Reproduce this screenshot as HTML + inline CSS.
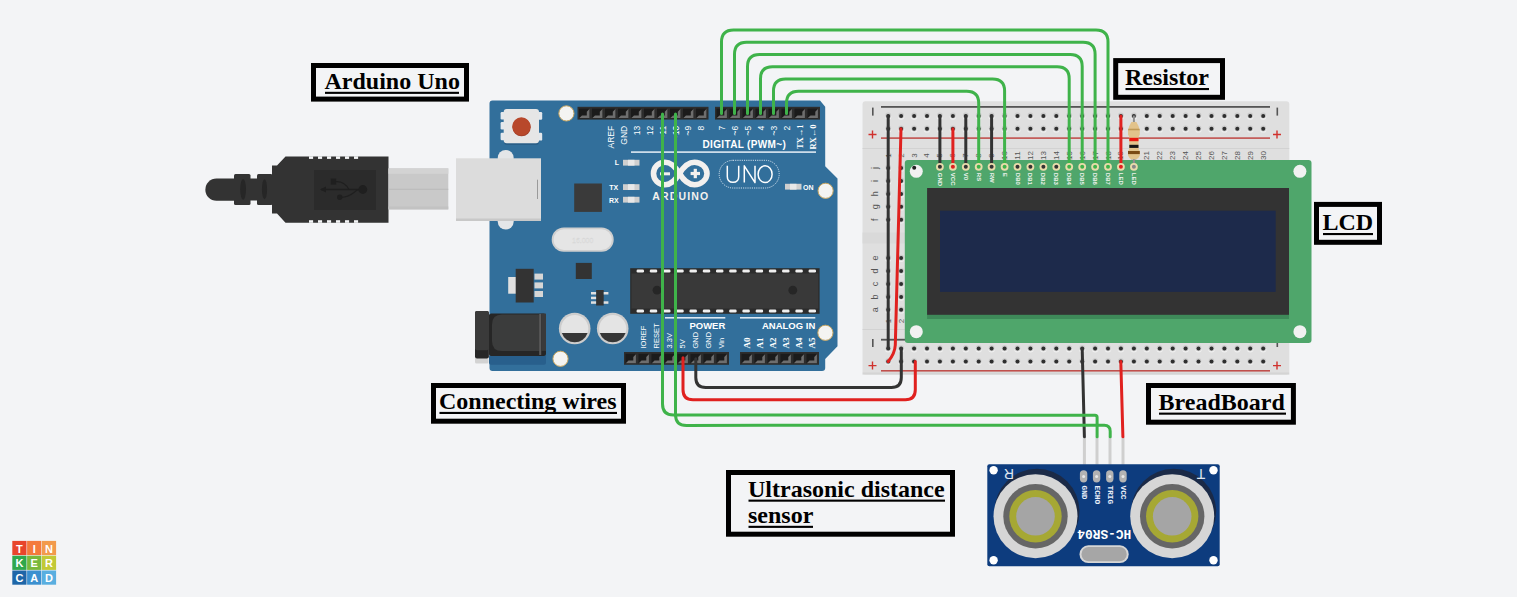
<!DOCTYPE html>
<html><head><meta charset="utf-8"><style>
html,body{margin:0;padding:0;background:#f3f4f6;width:1517px;height:597px;overflow:hidden}
svg{display:block}
</style></head><body>
<svg width="1517" height="597" viewBox="0 0 1517 597">
<rect width="1517" height="597" fill="#f3f4f6"/>
<g id="usb">
<path d="M234 178.5 L216.5 178.5 A11.15 11.15 0 0 0 216.5 200.8 L234 200.8 Z" fill="#333"/>
<rect x="234" y="174" width="16.5" height="31" rx="1.5" fill="#333"/>
<rect x="250" y="178.5" width="7" height="22" fill="#333"/>
<rect x="257" y="174" width="15.5" height="31" rx="1.5" fill="#333"/>
<ellipse cx="243.1" cy="189.3" rx="2.9" ry="10.4" fill="#262626"/>
<ellipse cx="264.5" cy="189.3" rx="2.6" ry="10" fill="#262626"/>
<path d="M272 165.5 L277 165.5 L285.5 156.5 L388.5 156.5 L388.5 222.8 L285.5 222.8 L277 213.5 L272 213.5 Z" fill="#333"/>
<rect x="309.0" y="156.3" width="4.1" height="2.6" fill="#f3f4f6"/>
<rect x="309.0" y="220.2" width="4.1" height="2.6" fill="#f3f4f6"/>
<rect x="318.0" y="156.3" width="4.1" height="2.6" fill="#f3f4f6"/>
<rect x="318.0" y="220.2" width="4.1" height="2.6" fill="#f3f4f6"/>
<rect x="327.0" y="156.3" width="4.1" height="2.6" fill="#f3f4f6"/>
<rect x="327.0" y="220.2" width="4.1" height="2.6" fill="#f3f4f6"/>
<rect x="336.0" y="156.3" width="4.1" height="2.6" fill="#f3f4f6"/>
<rect x="336.0" y="220.2" width="4.1" height="2.6" fill="#f3f4f6"/>
<rect x="345.0" y="156.3" width="4.1" height="2.6" fill="#f3f4f6"/>
<rect x="345.0" y="220.2" width="4.1" height="2.6" fill="#f3f4f6"/>
<rect x="354.0" y="156.3" width="4.1" height="2.6" fill="#f3f4f6"/>
<rect x="354.0" y="220.2" width="4.1" height="2.6" fill="#f3f4f6"/>
<rect x="314" y="170" width="62" height="40" fill="#2b2b2b"/>
<g fill="#1f1f1f" stroke="#1f1f1f" stroke-width="1.3"><path d="M321 189.5 L360 189.5" fill="none"/><path d="M320 189.5 L326 186.6 L326 192.4 Z" stroke="none"/><circle cx="362.8" cy="189.5" r="4.4" stroke="none"/><rect x="330.7" y="178.6" width="5.5" height="6" stroke="none"/><path d="M336 181.6 C341.5 181.2 346.5 184.5 348.8 189.5" fill="none"/><circle cx="339.7" cy="197.2" r="2.7" stroke="none"/><path d="M341.5 197.3 C346 197.3 350 195.5 354 192.5 C355.5 191.2 357 190 358.5 189.5" fill="none"/></g>
<rect x="388.5" y="168.4" width="59.8" height="41" fill="#c9c9c9"/>
<rect x="388.5" y="168.4" width="59.8" height="5.4" fill="#d3d3d3"/>
<rect x="388.5" y="188.8" width="59.8" height="0.9" fill="#b8b8b8"/>
<rect x="388.5" y="206.5" width="59.8" height="2.9" fill="#c2c2c2"/>
</g>
<g id="arduino">
<path d="M492.5 100.5 L820 100.5 L825.2 106.8 L825.2 166.3 L837.5 178.5 L837.5 346.2 L825.2 359 L825.2 368 Q825.2 371 822 371 L492.5 371 Q489.5 371 489.5 368 L489.5 103.5 Q489.5 100.5 492.5 100.5 Z" fill="#326f9b"/>
<rect x="504" y="111" width="35" height="34" rx="3" fill="#2a5f88"/>
<rect x="500.6" y="112" width="4" height="7.4" rx="1.2" fill="#e4e8ec"/>
<rect x="500.6" y="122" width="4" height="7.4" rx="1.2" fill="#e4e8ec"/>
<rect x="500.6" y="132.8" width="4" height="7.4" rx="1.2" fill="#e4e8ec"/>
<rect x="538.2" y="112" width="4" height="7.8" rx="1.2" fill="#e4e8ec"/>
<rect x="538.2" y="132.8" width="4" height="7.8" rx="1.2" fill="#e4e8ec"/>
<rect x="503.7" y="109.1" width="35.3" height="34.1" rx="3" fill="#e6e6e6"/>
<circle cx="521.6" cy="127.2" r="9.1" fill="#a23f29"/>
<circle cx="521.4" cy="126.4" r="9.1" fill="#b8482b"/>
<circle cx="566.4" cy="113.4" r="7.6" fill="#f4f4f2" stroke="#c8a660" stroke-width="1"/>
<circle cx="825.6" cy="190.8" r="7.6" fill="#f4f4f2" stroke="#c8a660" stroke-width="1"/>
<circle cx="825.4" cy="332.8" r="7.6" fill="#f4f4f2" stroke="#c8a660" stroke-width="1"/>
<circle cx="560.5" cy="358.8" r="7.6" fill="#f4f4f2" stroke="#c8a660" stroke-width="1"/>
<rect x="577.5" y="106.8" width="131" height="12.8" fill="#2d2d2d"/><rect x="579.0" y="108.6" width="10.2" height="9.6" fill="#1b1b1b"/><path d="M579.3 118.1 L589.4 118.1 L589.4 109.0 L586.8 111.8 L586.8 115.4 L582.0 115.4 Z" fill="#6e6e6e"/><rect x="592.0" y="108.6" width="10.2" height="9.6" fill="#1b1b1b"/><path d="M592.3 118.1 L602.4 118.1 L602.4 109.0 L599.8 111.8 L599.8 115.4 L595.0 115.4 Z" fill="#6e6e6e"/><rect x="605.0" y="108.6" width="10.2" height="9.6" fill="#1b1b1b"/><path d="M605.3 118.1 L615.4 118.1 L615.4 109.0 L612.8 111.8 L612.8 115.4 L608.0 115.4 Z" fill="#6e6e6e"/><rect x="618.0" y="108.6" width="10.2" height="9.6" fill="#1b1b1b"/><path d="M618.3 118.1 L628.4 118.1 L628.4 109.0 L625.8 111.8 L625.8 115.4 L621.0 115.4 Z" fill="#6e6e6e"/><rect x="631.0" y="108.6" width="10.2" height="9.6" fill="#1b1b1b"/><path d="M631.3 118.1 L641.4 118.1 L641.4 109.0 L638.8 111.8 L638.8 115.4 L634.0 115.4 Z" fill="#6e6e6e"/><rect x="644.0" y="108.6" width="10.2" height="9.6" fill="#1b1b1b"/><path d="M644.3 118.1 L654.4 118.1 L654.4 109.0 L651.8 111.8 L651.8 115.4 L647.0 115.4 Z" fill="#6e6e6e"/><rect x="657.0" y="108.6" width="10.2" height="9.6" fill="#1b1b1b"/><path d="M657.3 118.1 L667.4 118.1 L667.4 109.0 L664.8 111.8 L664.8 115.4 L660.0 115.4 Z" fill="#6e6e6e"/><rect x="670.0" y="108.6" width="10.2" height="9.6" fill="#1b1b1b"/><path d="M670.3 118.1 L680.4 118.1 L680.4 109.0 L677.8 111.8 L677.8 115.4 L673.0 115.4 Z" fill="#6e6e6e"/><rect x="683.0" y="108.6" width="10.2" height="9.6" fill="#1b1b1b"/><path d="M683.3 118.1 L693.4 118.1 L693.4 109.0 L690.8 111.8 L690.8 115.4 L686.0 115.4 Z" fill="#6e6e6e"/><rect x="696.0" y="108.6" width="10.2" height="9.6" fill="#1b1b1b"/><path d="M696.3 118.1 L706.4 118.1 L706.4 109.0 L703.8 111.8 L703.8 115.4 L699.0 115.4 Z" fill="#6e6e6e"/>
<rect x="715" y="106.8" width="105" height="12.8" fill="#2d2d2d"/><rect x="716.5" y="108.6" width="10.2" height="9.6" fill="#1b1b1b"/><path d="M716.8 118.1 L726.9 118.1 L726.9 109.0 L724.3 111.8 L724.3 115.4 L719.5 115.4 Z" fill="#6e6e6e"/><rect x="729.5" y="108.6" width="10.2" height="9.6" fill="#1b1b1b"/><path d="M729.8 118.1 L739.9 118.1 L739.9 109.0 L737.3 111.8 L737.3 115.4 L732.5 115.4 Z" fill="#6e6e6e"/><rect x="742.5" y="108.6" width="10.2" height="9.6" fill="#1b1b1b"/><path d="M742.8 118.1 L752.9 118.1 L752.9 109.0 L750.3 111.8 L750.3 115.4 L745.5 115.4 Z" fill="#6e6e6e"/><rect x="755.5" y="108.6" width="10.2" height="9.6" fill="#1b1b1b"/><path d="M755.8 118.1 L765.9 118.1 L765.9 109.0 L763.3 111.8 L763.3 115.4 L758.5 115.4 Z" fill="#6e6e6e"/><rect x="768.5" y="108.6" width="10.2" height="9.6" fill="#1b1b1b"/><path d="M768.8 118.1 L778.9 118.1 L778.9 109.0 L776.3 111.8 L776.3 115.4 L771.5 115.4 Z" fill="#6e6e6e"/><rect x="781.5" y="108.6" width="10.2" height="9.6" fill="#1b1b1b"/><path d="M781.8 118.1 L791.9 118.1 L791.9 109.0 L789.3 111.8 L789.3 115.4 L784.5 115.4 Z" fill="#6e6e6e"/><rect x="794.5" y="108.6" width="10.2" height="9.6" fill="#1b1b1b"/><path d="M794.8 118.1 L804.9 118.1 L804.9 109.0 L802.3 111.8 L802.3 115.4 L797.5 115.4 Z" fill="#6e6e6e"/><rect x="807.5" y="108.6" width="10.2" height="9.6" fill="#1b1b1b"/><path d="M807.8 118.1 L817.9 118.1 L817.9 109.0 L815.3 111.8 L815.3 115.4 L810.5 115.4 Z" fill="#6e6e6e"/>
<rect x="624" y="352" width="105" height="12.8" fill="#2d2d2d"/><rect x="625.5" y="353.8" width="10.2" height="9.6" fill="#1b1b1b"/><path d="M625.8 363.3 L635.9 363.3 L635.9 354.2 L633.3 357.0 L633.3 360.6 L628.5 360.6 Z" fill="#6e6e6e"/><rect x="638.5" y="353.8" width="10.2" height="9.6" fill="#1b1b1b"/><path d="M638.8 363.3 L648.9 363.3 L648.9 354.2 L646.3 357.0 L646.3 360.6 L641.5 360.6 Z" fill="#6e6e6e"/><rect x="651.5" y="353.8" width="10.2" height="9.6" fill="#1b1b1b"/><path d="M651.8 363.3 L661.9 363.3 L661.9 354.2 L659.3 357.0 L659.3 360.6 L654.5 360.6 Z" fill="#6e6e6e"/><rect x="664.5" y="353.8" width="10.2" height="9.6" fill="#1b1b1b"/><path d="M664.8 363.3 L674.9 363.3 L674.9 354.2 L672.3 357.0 L672.3 360.6 L667.5 360.6 Z" fill="#6e6e6e"/><rect x="677.5" y="353.8" width="10.2" height="9.6" fill="#1b1b1b"/><path d="M677.8 363.3 L687.9 363.3 L687.9 354.2 L685.3 357.0 L685.3 360.6 L680.5 360.6 Z" fill="#6e6e6e"/><rect x="690.5" y="353.8" width="10.2" height="9.6" fill="#1b1b1b"/><path d="M690.8 363.3 L700.9 363.3 L700.9 354.2 L698.3 357.0 L698.3 360.6 L693.5 360.6 Z" fill="#6e6e6e"/><rect x="703.5" y="353.8" width="10.2" height="9.6" fill="#1b1b1b"/><path d="M703.8 363.3 L713.9 363.3 L713.9 354.2 L711.3 357.0 L711.3 360.6 L706.5 360.6 Z" fill="#6e6e6e"/><rect x="716.5" y="353.8" width="10.2" height="9.6" fill="#1b1b1b"/><path d="M716.8 363.3 L726.9 363.3 L726.9 354.2 L724.3 357.0 L724.3 360.6 L719.5 360.6 Z" fill="#6e6e6e"/>
<rect x="740" y="352" width="79" height="12.8" fill="#2d2d2d"/><rect x="741.5" y="353.8" width="10.2" height="9.6" fill="#1b1b1b"/><path d="M741.8 363.3 L751.9 363.3 L751.9 354.2 L749.3 357.0 L749.3 360.6 L744.5 360.6 Z" fill="#6e6e6e"/><rect x="754.5" y="353.8" width="10.2" height="9.6" fill="#1b1b1b"/><path d="M754.8 363.3 L764.9 363.3 L764.9 354.2 L762.3 357.0 L762.3 360.6 L757.5 360.6 Z" fill="#6e6e6e"/><rect x="767.5" y="353.8" width="10.2" height="9.6" fill="#1b1b1b"/><path d="M767.8 363.3 L777.9 363.3 L777.9 354.2 L775.3 357.0 L775.3 360.6 L770.5 360.6 Z" fill="#6e6e6e"/><rect x="780.5" y="353.8" width="10.2" height="9.6" fill="#1b1b1b"/><path d="M780.8 363.3 L790.9 363.3 L790.9 354.2 L788.3 357.0 L788.3 360.6 L783.5 360.6 Z" fill="#6e6e6e"/><rect x="793.5" y="353.8" width="10.2" height="9.6" fill="#1b1b1b"/><path d="M793.8 363.3 L803.9 363.3 L803.9 354.2 L801.3 357.0 L801.3 360.6 L796.5 360.6 Z" fill="#6e6e6e"/><rect x="806.5" y="353.8" width="10.2" height="9.6" fill="#1b1b1b"/><path d="M806.8 363.3 L816.9 363.3 L816.9 354.2 L814.3 357.0 L814.3 360.6 L809.5 360.6 Z" fill="#6e6e6e"/>
<text transform="translate(611.2,125.8) rotate(-90)" font-family="Liberation Sans" font-size="8.5" font-weight="normal" fill="#fff" text-anchor="end" dominant-baseline="central">AREF</text>
<text transform="translate(623.8,125.8) rotate(-90)" font-family="Liberation Sans" font-size="8.5" font-weight="normal" fill="#fff" text-anchor="end" dominant-baseline="central">GND</text>
<text transform="translate(636.8,125.8) rotate(-90)" font-family="Liberation Sans" font-size="8.5" font-weight="normal" fill="#fff" text-anchor="end" dominant-baseline="central">13</text>
<text transform="translate(649.8,125.8) rotate(-90)" font-family="Liberation Sans" font-size="8.5" font-weight="normal" fill="#fff" text-anchor="end" dominant-baseline="central">12</text>
<text transform="translate(662.5,125.8) rotate(-90)" font-family="Liberation Sans" font-size="8.5" font-weight="normal" fill="#fff" text-anchor="end" dominant-baseline="central">~11</text>
<text transform="translate(675.5,125.8) rotate(-90)" font-family="Liberation Sans" font-size="8.5" font-weight="normal" fill="#fff" text-anchor="end" dominant-baseline="central">~10</text>
<text transform="translate(688.4,125.8) rotate(-90)" font-family="Liberation Sans" font-size="8.5" font-weight="normal" fill="#fff" text-anchor="end" dominant-baseline="central">~9</text>
<text transform="translate(701.3,125.8) rotate(-90)" font-family="Liberation Sans" font-size="8.5" font-weight="normal" fill="#fff" text-anchor="end" dominant-baseline="central">8</text>
<text transform="translate(721.5,125.8) rotate(-90)" font-family="Liberation Sans" font-size="8.5" font-weight="normal" fill="#fff" text-anchor="end" dominant-baseline="central">7</text>
<text transform="translate(734.5,125.8) rotate(-90)" font-family="Liberation Sans" font-size="8.5" font-weight="normal" fill="#fff" text-anchor="end" dominant-baseline="central">~6</text>
<text transform="translate(747.5,125.8) rotate(-90)" font-family="Liberation Sans" font-size="8.5" font-weight="normal" fill="#fff" text-anchor="end" dominant-baseline="central">~5</text>
<text transform="translate(760.5,125.8) rotate(-90)" font-family="Liberation Sans" font-size="8.5" font-weight="normal" fill="#fff" text-anchor="end" dominant-baseline="central">4</text>
<text transform="translate(773.5,125.8) rotate(-90)" font-family="Liberation Sans" font-size="8.5" font-weight="normal" fill="#fff" text-anchor="end" dominant-baseline="central">~3</text>
<text transform="translate(786.5,125.8) rotate(-90)" font-family="Liberation Sans" font-size="8.5" font-weight="normal" fill="#fff" text-anchor="end" dominant-baseline="central">2</text>
<text transform="translate(799.8,124.5) rotate(-90)" font-family="Liberation Serif" font-size="8.5" font-weight="bold" fill="#fff" text-anchor="end" dominant-baseline="central">TX→1</text>
<text transform="translate(812.6,124.5) rotate(-90)" font-family="Liberation Serif" font-size="8.5" font-weight="bold" fill="#fff" text-anchor="end" dominant-baseline="central">RX←0</text>
<text x="702.5" y="148.3" font-family="Liberation Sans" font-weight="bold" font-size="10" fill="#fff" textLength="83.3" lengthAdjust="spacing">DIGITAL (PWM~)</text>
<rect x="631" y="151.3" width="185" height="1.6" fill="#dde8f2"/>
<rect x="623" y="159.8" width="16.5" height="5.8" fill="#cfcfcf"/><rect x="628" y="159.8" width="6.5" height="5.8" fill="#e8e8e8"/>
<rect x="623" y="184.2" width="16.5" height="5.8" fill="#cfcfcf"/><rect x="628" y="184.2" width="6.5" height="5.8" fill="#e8e8e8"/>
<rect x="623" y="196.8" width="16.5" height="5.8" fill="#cfcfcf"/><rect x="628" y="196.8" width="6.5" height="5.8" fill="#e8e8e8"/>
<rect x="785" y="183.8" width="16.5" height="5.8" fill="#cfcfcf"/><rect x="790" y="183.8" width="6.5" height="5.8" fill="#e8e8e8"/>
<text x="617" y="165.3" font-family="Liberation Sans" font-weight="bold" font-size="7" fill="#fff" text-anchor="middle">L</text>
<text x="613.8" y="190" font-family="Liberation Sans" font-weight="bold" font-size="7" fill="#fff" text-anchor="middle">TX</text>
<text x="613.8" y="202.6" font-family="Liberation Sans" font-weight="bold" font-size="7" fill="#fff" text-anchor="middle">RX</text>
<text x="803" y="189.6" font-family="Liberation Sans" font-weight="bold" font-size="7" fill="#fff">ON</text>
<path d="M679.5 173.5 C675 166 671 162.2 665 162.2 C658.5 162.2 653.5 167.3 653.5 173.5 C653.5 179.7 658.5 184.8 665 184.8 C671 184.8 675 181 679.5 173.5 C684 166 688 162.2 694.5 162.2 C701 162.2 707 167.3 707 173.5 C707 179.7 701 184.8 694.5 184.8 C688 184.8 684 181 679.5 173.5 Z" fill="none" stroke="#f3f0ee" stroke-width="5.6"/>
<rect x="660" y="172.3" width="10" height="3" fill="#f3f0ee"/>
<rect x="690.6" y="171.9" width="9.4" height="3.2" fill="#f3f0ee"/><rect x="693.7" y="168.8" width="3.2" height="9.4" fill="#f3f0ee"/>
<text x="680.2" y="199.8" font-family="Liberation Sans" font-weight="bold" font-size="10.5" fill="#f4f1ee" text-anchor="middle" textLength="56" lengthAdjust="spacing">ARDUINO</text>
<rect x="719.2" y="160.3" width="60" height="27.7" rx="13.8" fill="none" stroke="#e8f0f8" stroke-width="0.9" stroke-dasharray="1.1 1.1"/>
<g fill="none" stroke="#fff" stroke-width="1.5" stroke-linejoin="round"><path d="M727.3 165.8 L727.3 176.5 Q727.3 182.3 733 182.3 Q738.7 182.3 738.7 176.5 L738.7 165.8"/><path d="M744.3 182.6 L744.3 165.8 L755 182.6 L755 165.8"/><ellipse cx="765.1" cy="174.2" rx="7" ry="8.4"/></g>
<rect x="574.2" y="183.5" width="27.7" height="28.4" fill="#3a3a3a"/>
<circle cx="505.7" cy="158" r="8" fill="#e4e6e8"/>
<circle cx="505.7" cy="221.5" r="8" fill="#e4e6e8"/>
<rect x="456" y="158.3" width="85" height="62.7" fill="#dcdcdc"/>
<rect x="456" y="218.5" width="85" height="2.5" fill="#c8c8c8"/>
<rect x="537" y="179.7" width="1" height="19.3" fill="#9a9a9a"/>
<rect x="551.7" y="227.5" width="62" height="24.3" rx="12.1" fill="#cfcfcf"/>
<rect x="553.6" y="229.2" width="58.2" height="20.9" rx="10.4" fill="#e5e5e5"/>
<text x="582.7" y="242.8" font-family="Liberation Sans" font-size="7" fill="#f2f2f2" text-anchor="middle" stroke="#d6d6d6" stroke-width="0.4">16.000</text>
<rect x="575.8" y="262.9" width="16" height="16.1" fill="#333"/>
<rect x="508.2" y="277" width="8" height="16.7" fill="#e0e0e0"/>
<rect x="515.7" y="268.8" width="18" height="33.7" fill="#333"/>
<rect x="534.5" y="273.6" width="8.5" height="6" fill="#d6d6d6"/>
<rect x="534.5" y="282.4" width="8.5" height="6" fill="#d6d6d6"/>
<rect x="534.5" y="291" width="8.5" height="6" fill="#d6d6d6"/>
<rect x="596.1" y="290" width="7.6" height="15.5" fill="#333"/>
<rect x="591" y="292" width="5.1" height="2.5" fill="#e0e0e0"/>
<rect x="591" y="296.7" width="5.1" height="2.5" fill="#e0e0e0"/>
<rect x="591" y="301.3" width="5.1" height="2.5" fill="#e0e0e0"/>
<rect x="603.7" y="292" width="4.7" height="2.5" fill="#e0e0e0"/><rect x="603.7" y="301.3" width="4.7" height="2.5" fill="#e0e0e0"/>
<circle cx="574.7" cy="328.5" r="15.8" fill="#cdcdcd"/>
<circle cx="574.7" cy="328.5" r="13.6" fill="#e4e4e4"/>
<path d="M561.8 333 A13.6 13.6 0 0 0 587.6 333 Z" fill="#363636"/>
<circle cx="612.7" cy="328.5" r="15.8" fill="#cdcdcd"/>
<circle cx="612.7" cy="328.5" r="13.6" fill="#e4e4e4"/>
<path d="M599.8 333 A13.6 13.6 0 0 0 625.6 333 Z" fill="#363636"/>
<rect x="489" y="355" width="57" height="9.7" rx="2" fill="#285f8c"/>
<rect x="475" y="356" width="13.5" height="7.5" rx="1.5" fill="#d3d3d3"/>
<rect x="488.9" y="313.6" width="57.1" height="42.3" rx="2.5" fill="#262626"/>
<path d="M502 314.5 L540.4 314.5 L540.4 350.9 L502 350.9 Q492 350.9 492 340.9 L492 324.5 Q492 314.5 502 314.5 Z" fill="#3b3c3c"/>
<rect x="539.2" y="314" width="2" height="41" fill="#5a5a5a"/>
<rect x="541.2" y="313.6" width="4.8" height="37.3" fill="#3a3a3a"/>
<rect x="475" y="311" width="13.9" height="47.4" rx="2" fill="#262626"/>
<rect x="475" y="311" width="13.9" height="39.3" rx="2" fill="#3a3a3a"/>
<rect x="630.2" y="268.2" width="189.4" height="45.6" fill="#2c2c2c"/>
<rect x="631.5" y="273.5" width="186.8" height="35" fill="#393939"/>
<rect x="636.6" y="269.6" width="7.4" height="2.8" rx="1.2" fill="#f0f0f0"/>
<rect x="636.6" y="309.6" width="7.4" height="2.8" rx="1.2" fill="#f0f0f0"/>
<rect x="649.8" y="269.6" width="7.4" height="2.8" rx="1.2" fill="#f0f0f0"/>
<rect x="649.8" y="309.6" width="7.4" height="2.8" rx="1.2" fill="#f0f0f0"/>
<rect x="663.1" y="269.6" width="7.4" height="2.8" rx="1.2" fill="#f0f0f0"/>
<rect x="663.1" y="309.6" width="7.4" height="2.8" rx="1.2" fill="#f0f0f0"/>
<rect x="676.3" y="269.6" width="7.4" height="2.8" rx="1.2" fill="#f0f0f0"/>
<rect x="676.3" y="309.6" width="7.4" height="2.8" rx="1.2" fill="#f0f0f0"/>
<rect x="689.5" y="269.6" width="7.4" height="2.8" rx="1.2" fill="#f0f0f0"/>
<rect x="689.5" y="309.6" width="7.4" height="2.8" rx="1.2" fill="#f0f0f0"/>
<rect x="702.8" y="269.6" width="7.4" height="2.8" rx="1.2" fill="#f0f0f0"/>
<rect x="702.8" y="309.6" width="7.4" height="2.8" rx="1.2" fill="#f0f0f0"/>
<rect x="716.0" y="269.6" width="7.4" height="2.8" rx="1.2" fill="#f0f0f0"/>
<rect x="716.0" y="309.6" width="7.4" height="2.8" rx="1.2" fill="#f0f0f0"/>
<rect x="729.2" y="269.6" width="7.4" height="2.8" rx="1.2" fill="#f0f0f0"/>
<rect x="729.2" y="309.6" width="7.4" height="2.8" rx="1.2" fill="#f0f0f0"/>
<rect x="742.4" y="269.6" width="7.4" height="2.8" rx="1.2" fill="#f0f0f0"/>
<rect x="742.4" y="309.6" width="7.4" height="2.8" rx="1.2" fill="#f0f0f0"/>
<rect x="755.7" y="269.6" width="7.4" height="2.8" rx="1.2" fill="#f0f0f0"/>
<rect x="755.7" y="309.6" width="7.4" height="2.8" rx="1.2" fill="#f0f0f0"/>
<rect x="768.9" y="269.6" width="7.4" height="2.8" rx="1.2" fill="#f0f0f0"/>
<rect x="768.9" y="309.6" width="7.4" height="2.8" rx="1.2" fill="#f0f0f0"/>
<rect x="782.1" y="269.6" width="7.4" height="2.8" rx="1.2" fill="#f0f0f0"/>
<rect x="782.1" y="309.6" width="7.4" height="2.8" rx="1.2" fill="#f0f0f0"/>
<rect x="795.4" y="269.6" width="7.4" height="2.8" rx="1.2" fill="#f0f0f0"/>
<rect x="795.4" y="309.6" width="7.4" height="2.8" rx="1.2" fill="#f0f0f0"/>
<rect x="808.6" y="269.6" width="7.4" height="2.8" rx="1.2" fill="#f0f0f0"/>
<rect x="808.6" y="309.6" width="7.4" height="2.8" rx="1.2" fill="#f0f0f0"/>
<circle cx="657" cy="290.2" r="4.4" fill="#262626"/><circle cx="792.8" cy="290.2" r="4.4" fill="#262626"/>
<rect x="665" y="317" width="60.3" height="1.6" fill="#dde8f2"/>
<rect x="740" y="317" width="75.3" height="1.6" fill="#dde8f2"/>
<text x="725.3" y="329" font-family="Liberation Sans" font-weight="bold" font-size="9.5" fill="#fff" text-anchor="end">POWER</text>
<text x="815.3" y="329" font-family="Liberation Sans" font-weight="bold" font-size="9.5" fill="#fff" text-anchor="end">ANALOG IN</text>
<text transform="translate(643.5,348.5) rotate(-90)" font-family="Liberation Sans" font-size="7.5" font-weight="normal" fill="#fff" text-anchor="start" dominant-baseline="central">IOREF</text>
<text transform="translate(656.5,348.5) rotate(-90)" font-family="Liberation Sans" font-size="7.5" font-weight="normal" fill="#fff" text-anchor="start" dominant-baseline="central">RESET</text>
<text transform="translate(669.5,348.5) rotate(-90)" font-family="Liberation Sans" font-size="7.5" font-weight="normal" fill="#fff" text-anchor="start" dominant-baseline="central">3.3V</text>
<text transform="translate(682.5,348.5) rotate(-90)" font-family="Liberation Sans" font-size="7.5" font-weight="normal" fill="#fff" text-anchor="start" dominant-baseline="central">5V</text>
<text transform="translate(695.5,348.5) rotate(-90)" font-family="Liberation Sans" font-size="7.5" font-weight="normal" fill="#fff" text-anchor="start" dominant-baseline="central">GND</text>
<text transform="translate(708.5,348.5) rotate(-90)" font-family="Liberation Sans" font-size="7.5" font-weight="normal" fill="#fff" text-anchor="start" dominant-baseline="central">GND</text>
<text transform="translate(721.5,348.5) rotate(-90)" font-family="Liberation Sans" font-size="7.5" font-weight="normal" fill="#fff" text-anchor="start" dominant-baseline="central">Vin</text>
<text transform="translate(746.5,348.5) rotate(-90)" font-family="Liberation Serif" font-size="9" font-weight="bold" fill="#fff" text-anchor="start" dominant-baseline="central">A0</text>
<text transform="translate(759.5,348.5) rotate(-90)" font-family="Liberation Serif" font-size="9" font-weight="bold" fill="#fff" text-anchor="start" dominant-baseline="central">A1</text>
<text transform="translate(772.5,348.5) rotate(-90)" font-family="Liberation Serif" font-size="9" font-weight="bold" fill="#fff" text-anchor="start" dominant-baseline="central">A2</text>
<text transform="translate(785.5,348.5) rotate(-90)" font-family="Liberation Serif" font-size="9" font-weight="bold" fill="#fff" text-anchor="start" dominant-baseline="central">A3</text>
<text transform="translate(798.5,348.5) rotate(-90)" font-family="Liberation Serif" font-size="9" font-weight="bold" fill="#fff" text-anchor="start" dominant-baseline="central">A4</text>
<text transform="translate(811.5,348.5) rotate(-90)" font-family="Liberation Serif" font-size="9" font-weight="bold" fill="#fff" text-anchor="start" dominant-baseline="central">A5</text>
</g>
<g id="bb">
<rect x="862.5" y="101.3" width="426.8" height="273.3" rx="3" fill="#dfdfdf"/>
<rect x="862.5" y="372.5" width="426.8" height="2.1" fill="#d4d4d4"/>
<rect x="862.5" y="148" width="426.8" height="1" fill="#d2d2d2"/>
<rect x="862.5" y="329" width="426.8" height="1" fill="#d2d2d2"/>
<rect x="862.5" y="232.5" width="426.8" height="11" fill="#d9d9d9"/>
<rect x="881" y="106" width="389" height="1.8" fill="#555"/>
<rect x="881" y="137.3" width="389" height="1.6" fill="#c0504d"/>
<rect x="881" y="338.8" width="389" height="1.8" fill="#555"/>
<rect x="881" y="370" width="389" height="1.6" fill="#c0504d"/>
<rect x="872" y="107.6" width="1.6" height="8" fill="#555"/>
<rect x="1276.5" y="107.6" width="1.6" height="8" fill="#555"/>
<rect x="872" y="339" width="1.6" height="8" fill="#555"/>
<rect x="1276.5" y="339" width="1.6" height="8" fill="#555"/>
<path d="M868.5 134.5 h8 M872.5 130.5 v8" stroke="#d0312d" stroke-width="1.4"/>
<path d="M1273 134.5 h8 M1277 130.5 v8" stroke="#d0312d" stroke-width="1.4"/>
<path d="M868.5 365.6 h8 M872.5 361.6 v8" stroke="#d0312d" stroke-width="1.4"/>
<path d="M1273 365.6 h8 M1277 361.6 v8" stroke="#d0312d" stroke-width="1.4"/>
<circle cx="888.2" cy="116.5" r="3.2" fill="#f0f0f0"/><circle cx="888.2" cy="115.6" r="3" fill="#cbcbcb"/><circle cx="888.2" cy="115.9" r="2.0" fill="#2e2e2e"/>
<circle cx="888.2" cy="129.4" r="3.2" fill="#f0f0f0"/><circle cx="888.2" cy="128.5" r="3" fill="#cbcbcb"/><circle cx="888.2" cy="128.8" r="2.0" fill="#2e2e2e"/>
<circle cx="888.2" cy="349.2" r="3.2" fill="#f0f0f0"/><circle cx="888.2" cy="348.3" r="3" fill="#cbcbcb"/><circle cx="888.2" cy="348.6" r="2.0" fill="#2e2e2e"/>
<circle cx="888.2" cy="362.1" r="3.2" fill="#f0f0f0"/><circle cx="888.2" cy="361.2" r="3" fill="#cbcbcb"/><circle cx="888.2" cy="361.5" r="2.0" fill="#2e2e2e"/>
<circle cx="888.2" cy="168.6" r="3.2" fill="#f0f0f0"/><circle cx="888.2" cy="167.7" r="3" fill="#cbcbcb"/><circle cx="888.2" cy="168.0" r="2.0" fill="#2e2e2e"/>
<circle cx="888.2" cy="258.7" r="3.2" fill="#f0f0f0"/><circle cx="888.2" cy="257.8" r="3" fill="#cbcbcb"/><circle cx="888.2" cy="258.1" r="2.0" fill="#2e2e2e"/>
<circle cx="888.2" cy="181.5" r="3.2" fill="#f0f0f0"/><circle cx="888.2" cy="180.6" r="3" fill="#cbcbcb"/><circle cx="888.2" cy="180.9" r="2.0" fill="#2e2e2e"/>
<circle cx="888.2" cy="271.6" r="3.2" fill="#f0f0f0"/><circle cx="888.2" cy="270.7" r="3" fill="#cbcbcb"/><circle cx="888.2" cy="271.0" r="2.0" fill="#2e2e2e"/>
<circle cx="888.2" cy="194.5" r="3.2" fill="#f0f0f0"/><circle cx="888.2" cy="193.6" r="3" fill="#cbcbcb"/><circle cx="888.2" cy="193.9" r="2.0" fill="#2e2e2e"/>
<circle cx="888.2" cy="284.6" r="3.2" fill="#f0f0f0"/><circle cx="888.2" cy="283.7" r="3" fill="#cbcbcb"/><circle cx="888.2" cy="284.0" r="2.0" fill="#2e2e2e"/>
<circle cx="888.2" cy="207.4" r="3.2" fill="#f0f0f0"/><circle cx="888.2" cy="206.5" r="3" fill="#cbcbcb"/><circle cx="888.2" cy="206.8" r="2.0" fill="#2e2e2e"/>
<circle cx="888.2" cy="297.5" r="3.2" fill="#f0f0f0"/><circle cx="888.2" cy="296.6" r="3" fill="#cbcbcb"/><circle cx="888.2" cy="296.9" r="2.0" fill="#2e2e2e"/>
<circle cx="888.2" cy="220.3" r="3.2" fill="#f0f0f0"/><circle cx="888.2" cy="219.4" r="3" fill="#cbcbcb"/><circle cx="888.2" cy="219.7" r="2.0" fill="#2e2e2e"/>
<circle cx="888.2" cy="310.4" r="3.2" fill="#f0f0f0"/><circle cx="888.2" cy="309.5" r="3" fill="#cbcbcb"/><circle cx="888.2" cy="309.8" r="2.0" fill="#2e2e2e"/>
<circle cx="901.1" cy="116.5" r="3.2" fill="#f0f0f0"/><circle cx="901.1" cy="115.6" r="3" fill="#cbcbcb"/><circle cx="901.1" cy="115.9" r="2.0" fill="#2e2e2e"/>
<circle cx="901.1" cy="129.4" r="3.2" fill="#f0f0f0"/><circle cx="901.1" cy="128.5" r="3" fill="#cbcbcb"/><circle cx="901.1" cy="128.8" r="2.0" fill="#2e2e2e"/>
<circle cx="901.1" cy="349.2" r="3.2" fill="#f0f0f0"/><circle cx="901.1" cy="348.3" r="3" fill="#cbcbcb"/><circle cx="901.1" cy="348.6" r="2.0" fill="#2e2e2e"/>
<circle cx="901.1" cy="362.1" r="3.2" fill="#f0f0f0"/><circle cx="901.1" cy="361.2" r="3" fill="#cbcbcb"/><circle cx="901.1" cy="361.5" r="2.0" fill="#2e2e2e"/>
<circle cx="901.1" cy="168.6" r="3.2" fill="#f0f0f0"/><circle cx="901.1" cy="167.7" r="3" fill="#cbcbcb"/><circle cx="901.1" cy="168.0" r="2.0" fill="#2e2e2e"/>
<circle cx="901.1" cy="258.7" r="3.2" fill="#f0f0f0"/><circle cx="901.1" cy="257.8" r="3" fill="#cbcbcb"/><circle cx="901.1" cy="258.1" r="2.0" fill="#2e2e2e"/>
<circle cx="901.1" cy="181.5" r="3.2" fill="#f0f0f0"/><circle cx="901.1" cy="180.6" r="3" fill="#cbcbcb"/><circle cx="901.1" cy="180.9" r="2.0" fill="#2e2e2e"/>
<circle cx="901.1" cy="271.6" r="3.2" fill="#f0f0f0"/><circle cx="901.1" cy="270.7" r="3" fill="#cbcbcb"/><circle cx="901.1" cy="271.0" r="2.0" fill="#2e2e2e"/>
<circle cx="901.1" cy="194.5" r="3.2" fill="#f0f0f0"/><circle cx="901.1" cy="193.6" r="3" fill="#cbcbcb"/><circle cx="901.1" cy="193.9" r="2.0" fill="#2e2e2e"/>
<circle cx="901.1" cy="284.6" r="3.2" fill="#f0f0f0"/><circle cx="901.1" cy="283.7" r="3" fill="#cbcbcb"/><circle cx="901.1" cy="284.0" r="2.0" fill="#2e2e2e"/>
<circle cx="901.1" cy="207.4" r="3.2" fill="#f0f0f0"/><circle cx="901.1" cy="206.5" r="3" fill="#cbcbcb"/><circle cx="901.1" cy="206.8" r="2.0" fill="#2e2e2e"/>
<circle cx="901.1" cy="297.5" r="3.2" fill="#f0f0f0"/><circle cx="901.1" cy="296.6" r="3" fill="#cbcbcb"/><circle cx="901.1" cy="296.9" r="2.0" fill="#2e2e2e"/>
<circle cx="901.1" cy="220.3" r="3.2" fill="#f0f0f0"/><circle cx="901.1" cy="219.4" r="3" fill="#cbcbcb"/><circle cx="901.1" cy="219.7" r="2.0" fill="#2e2e2e"/>
<circle cx="901.1" cy="310.4" r="3.2" fill="#f0f0f0"/><circle cx="901.1" cy="309.5" r="3" fill="#cbcbcb"/><circle cx="901.1" cy="309.8" r="2.0" fill="#2e2e2e"/>
<circle cx="914.1" cy="116.5" r="3.2" fill="#f0f0f0"/><circle cx="914.1" cy="115.6" r="3" fill="#cbcbcb"/><circle cx="914.1" cy="115.9" r="2.0" fill="#2e2e2e"/>
<circle cx="914.1" cy="129.4" r="3.2" fill="#f0f0f0"/><circle cx="914.1" cy="128.5" r="3" fill="#cbcbcb"/><circle cx="914.1" cy="128.8" r="2.0" fill="#2e2e2e"/>
<circle cx="914.1" cy="349.2" r="3.2" fill="#f0f0f0"/><circle cx="914.1" cy="348.3" r="3" fill="#cbcbcb"/><circle cx="914.1" cy="348.6" r="2.0" fill="#2e2e2e"/>
<circle cx="914.1" cy="362.1" r="3.2" fill="#f0f0f0"/><circle cx="914.1" cy="361.2" r="3" fill="#cbcbcb"/><circle cx="914.1" cy="361.5" r="2.0" fill="#2e2e2e"/>
<circle cx="914.1" cy="168.6" r="3.2" fill="#f0f0f0"/><circle cx="914.1" cy="167.7" r="3" fill="#cbcbcb"/><circle cx="914.1" cy="168.0" r="2.0" fill="#2e2e2e"/>
<circle cx="914.1" cy="258.7" r="3.2" fill="#f0f0f0"/><circle cx="914.1" cy="257.8" r="3" fill="#cbcbcb"/><circle cx="914.1" cy="258.1" r="2.0" fill="#2e2e2e"/>
<circle cx="914.1" cy="181.5" r="3.2" fill="#f0f0f0"/><circle cx="914.1" cy="180.6" r="3" fill="#cbcbcb"/><circle cx="914.1" cy="180.9" r="2.0" fill="#2e2e2e"/>
<circle cx="914.1" cy="271.6" r="3.2" fill="#f0f0f0"/><circle cx="914.1" cy="270.7" r="3" fill="#cbcbcb"/><circle cx="914.1" cy="271.0" r="2.0" fill="#2e2e2e"/>
<circle cx="914.1" cy="194.5" r="3.2" fill="#f0f0f0"/><circle cx="914.1" cy="193.6" r="3" fill="#cbcbcb"/><circle cx="914.1" cy="193.9" r="2.0" fill="#2e2e2e"/>
<circle cx="914.1" cy="284.6" r="3.2" fill="#f0f0f0"/><circle cx="914.1" cy="283.7" r="3" fill="#cbcbcb"/><circle cx="914.1" cy="284.0" r="2.0" fill="#2e2e2e"/>
<circle cx="914.1" cy="207.4" r="3.2" fill="#f0f0f0"/><circle cx="914.1" cy="206.5" r="3" fill="#cbcbcb"/><circle cx="914.1" cy="206.8" r="2.0" fill="#2e2e2e"/>
<circle cx="914.1" cy="297.5" r="3.2" fill="#f0f0f0"/><circle cx="914.1" cy="296.6" r="3" fill="#cbcbcb"/><circle cx="914.1" cy="296.9" r="2.0" fill="#2e2e2e"/>
<circle cx="914.1" cy="220.3" r="3.2" fill="#f0f0f0"/><circle cx="914.1" cy="219.4" r="3" fill="#cbcbcb"/><circle cx="914.1" cy="219.7" r="2.0" fill="#2e2e2e"/>
<circle cx="914.1" cy="310.4" r="3.2" fill="#f0f0f0"/><circle cx="914.1" cy="309.5" r="3" fill="#cbcbcb"/><circle cx="914.1" cy="309.8" r="2.0" fill="#2e2e2e"/>
<circle cx="927.0" cy="116.5" r="3.2" fill="#f0f0f0"/><circle cx="927.0" cy="115.6" r="3" fill="#cbcbcb"/><circle cx="927.0" cy="115.9" r="2.0" fill="#2e2e2e"/>
<circle cx="927.0" cy="129.4" r="3.2" fill="#f0f0f0"/><circle cx="927.0" cy="128.5" r="3" fill="#cbcbcb"/><circle cx="927.0" cy="128.8" r="2.0" fill="#2e2e2e"/>
<circle cx="927.0" cy="349.2" r="3.2" fill="#f0f0f0"/><circle cx="927.0" cy="348.3" r="3" fill="#cbcbcb"/><circle cx="927.0" cy="348.6" r="2.0" fill="#2e2e2e"/>
<circle cx="927.0" cy="362.1" r="3.2" fill="#f0f0f0"/><circle cx="927.0" cy="361.2" r="3" fill="#cbcbcb"/><circle cx="927.0" cy="361.5" r="2.0" fill="#2e2e2e"/>
<circle cx="927.0" cy="168.6" r="3.2" fill="#f0f0f0"/><circle cx="927.0" cy="167.7" r="3" fill="#cbcbcb"/><circle cx="927.0" cy="168.0" r="2.0" fill="#2e2e2e"/>
<circle cx="927.0" cy="258.7" r="3.2" fill="#f0f0f0"/><circle cx="927.0" cy="257.8" r="3" fill="#cbcbcb"/><circle cx="927.0" cy="258.1" r="2.0" fill="#2e2e2e"/>
<circle cx="927.0" cy="181.5" r="3.2" fill="#f0f0f0"/><circle cx="927.0" cy="180.6" r="3" fill="#cbcbcb"/><circle cx="927.0" cy="180.9" r="2.0" fill="#2e2e2e"/>
<circle cx="927.0" cy="271.6" r="3.2" fill="#f0f0f0"/><circle cx="927.0" cy="270.7" r="3" fill="#cbcbcb"/><circle cx="927.0" cy="271.0" r="2.0" fill="#2e2e2e"/>
<circle cx="927.0" cy="194.5" r="3.2" fill="#f0f0f0"/><circle cx="927.0" cy="193.6" r="3" fill="#cbcbcb"/><circle cx="927.0" cy="193.9" r="2.0" fill="#2e2e2e"/>
<circle cx="927.0" cy="284.6" r="3.2" fill="#f0f0f0"/><circle cx="927.0" cy="283.7" r="3" fill="#cbcbcb"/><circle cx="927.0" cy="284.0" r="2.0" fill="#2e2e2e"/>
<circle cx="927.0" cy="207.4" r="3.2" fill="#f0f0f0"/><circle cx="927.0" cy="206.5" r="3" fill="#cbcbcb"/><circle cx="927.0" cy="206.8" r="2.0" fill="#2e2e2e"/>
<circle cx="927.0" cy="297.5" r="3.2" fill="#f0f0f0"/><circle cx="927.0" cy="296.6" r="3" fill="#cbcbcb"/><circle cx="927.0" cy="296.9" r="2.0" fill="#2e2e2e"/>
<circle cx="927.0" cy="220.3" r="3.2" fill="#f0f0f0"/><circle cx="927.0" cy="219.4" r="3" fill="#cbcbcb"/><circle cx="927.0" cy="219.7" r="2.0" fill="#2e2e2e"/>
<circle cx="927.0" cy="310.4" r="3.2" fill="#f0f0f0"/><circle cx="927.0" cy="309.5" r="3" fill="#cbcbcb"/><circle cx="927.0" cy="309.8" r="2.0" fill="#2e2e2e"/>
<circle cx="939.9" cy="116.5" r="3.2" fill="#f0f0f0"/><circle cx="939.9" cy="115.6" r="3" fill="#cbcbcb"/><circle cx="939.9" cy="115.9" r="2.0" fill="#2e2e2e"/>
<circle cx="939.9" cy="129.4" r="3.2" fill="#f0f0f0"/><circle cx="939.9" cy="128.5" r="3" fill="#cbcbcb"/><circle cx="939.9" cy="128.8" r="2.0" fill="#2e2e2e"/>
<circle cx="939.9" cy="349.2" r="3.2" fill="#f0f0f0"/><circle cx="939.9" cy="348.3" r="3" fill="#cbcbcb"/><circle cx="939.9" cy="348.6" r="2.0" fill="#2e2e2e"/>
<circle cx="939.9" cy="362.1" r="3.2" fill="#f0f0f0"/><circle cx="939.9" cy="361.2" r="3" fill="#cbcbcb"/><circle cx="939.9" cy="361.5" r="2.0" fill="#2e2e2e"/>
<circle cx="939.9" cy="168.6" r="3.2" fill="#f0f0f0"/><circle cx="939.9" cy="167.7" r="3" fill="#cbcbcb"/><circle cx="939.9" cy="168.0" r="2.0" fill="#2e2e2e"/>
<circle cx="939.9" cy="258.7" r="3.2" fill="#f0f0f0"/><circle cx="939.9" cy="257.8" r="3" fill="#cbcbcb"/><circle cx="939.9" cy="258.1" r="2.0" fill="#2e2e2e"/>
<circle cx="939.9" cy="181.5" r="3.2" fill="#f0f0f0"/><circle cx="939.9" cy="180.6" r="3" fill="#cbcbcb"/><circle cx="939.9" cy="180.9" r="2.0" fill="#2e2e2e"/>
<circle cx="939.9" cy="271.6" r="3.2" fill="#f0f0f0"/><circle cx="939.9" cy="270.7" r="3" fill="#cbcbcb"/><circle cx="939.9" cy="271.0" r="2.0" fill="#2e2e2e"/>
<circle cx="939.9" cy="194.5" r="3.2" fill="#f0f0f0"/><circle cx="939.9" cy="193.6" r="3" fill="#cbcbcb"/><circle cx="939.9" cy="193.9" r="2.0" fill="#2e2e2e"/>
<circle cx="939.9" cy="284.6" r="3.2" fill="#f0f0f0"/><circle cx="939.9" cy="283.7" r="3" fill="#cbcbcb"/><circle cx="939.9" cy="284.0" r="2.0" fill="#2e2e2e"/>
<circle cx="939.9" cy="207.4" r="3.2" fill="#f0f0f0"/><circle cx="939.9" cy="206.5" r="3" fill="#cbcbcb"/><circle cx="939.9" cy="206.8" r="2.0" fill="#2e2e2e"/>
<circle cx="939.9" cy="297.5" r="3.2" fill="#f0f0f0"/><circle cx="939.9" cy="296.6" r="3" fill="#cbcbcb"/><circle cx="939.9" cy="296.9" r="2.0" fill="#2e2e2e"/>
<circle cx="939.9" cy="220.3" r="3.2" fill="#f0f0f0"/><circle cx="939.9" cy="219.4" r="3" fill="#cbcbcb"/><circle cx="939.9" cy="219.7" r="2.0" fill="#2e2e2e"/>
<circle cx="939.9" cy="310.4" r="3.2" fill="#f0f0f0"/><circle cx="939.9" cy="309.5" r="3" fill="#cbcbcb"/><circle cx="939.9" cy="309.8" r="2.0" fill="#2e2e2e"/>
<circle cx="952.9" cy="116.5" r="3.2" fill="#f0f0f0"/><circle cx="952.9" cy="115.6" r="3" fill="#cbcbcb"/><circle cx="952.9" cy="115.9" r="2.0" fill="#2e2e2e"/>
<circle cx="952.9" cy="129.4" r="3.2" fill="#f0f0f0"/><circle cx="952.9" cy="128.5" r="3" fill="#cbcbcb"/><circle cx="952.9" cy="128.8" r="2.0" fill="#2e2e2e"/>
<circle cx="952.9" cy="349.2" r="3.2" fill="#f0f0f0"/><circle cx="952.9" cy="348.3" r="3" fill="#cbcbcb"/><circle cx="952.9" cy="348.6" r="2.0" fill="#2e2e2e"/>
<circle cx="952.9" cy="362.1" r="3.2" fill="#f0f0f0"/><circle cx="952.9" cy="361.2" r="3" fill="#cbcbcb"/><circle cx="952.9" cy="361.5" r="2.0" fill="#2e2e2e"/>
<circle cx="952.9" cy="168.6" r="3.2" fill="#f0f0f0"/><circle cx="952.9" cy="167.7" r="3" fill="#cbcbcb"/><circle cx="952.9" cy="168.0" r="2.0" fill="#2e2e2e"/>
<circle cx="952.9" cy="258.7" r="3.2" fill="#f0f0f0"/><circle cx="952.9" cy="257.8" r="3" fill="#cbcbcb"/><circle cx="952.9" cy="258.1" r="2.0" fill="#2e2e2e"/>
<circle cx="952.9" cy="181.5" r="3.2" fill="#f0f0f0"/><circle cx="952.9" cy="180.6" r="3" fill="#cbcbcb"/><circle cx="952.9" cy="180.9" r="2.0" fill="#2e2e2e"/>
<circle cx="952.9" cy="271.6" r="3.2" fill="#f0f0f0"/><circle cx="952.9" cy="270.7" r="3" fill="#cbcbcb"/><circle cx="952.9" cy="271.0" r="2.0" fill="#2e2e2e"/>
<circle cx="952.9" cy="194.5" r="3.2" fill="#f0f0f0"/><circle cx="952.9" cy="193.6" r="3" fill="#cbcbcb"/><circle cx="952.9" cy="193.9" r="2.0" fill="#2e2e2e"/>
<circle cx="952.9" cy="284.6" r="3.2" fill="#f0f0f0"/><circle cx="952.9" cy="283.7" r="3" fill="#cbcbcb"/><circle cx="952.9" cy="284.0" r="2.0" fill="#2e2e2e"/>
<circle cx="952.9" cy="207.4" r="3.2" fill="#f0f0f0"/><circle cx="952.9" cy="206.5" r="3" fill="#cbcbcb"/><circle cx="952.9" cy="206.8" r="2.0" fill="#2e2e2e"/>
<circle cx="952.9" cy="297.5" r="3.2" fill="#f0f0f0"/><circle cx="952.9" cy="296.6" r="3" fill="#cbcbcb"/><circle cx="952.9" cy="296.9" r="2.0" fill="#2e2e2e"/>
<circle cx="952.9" cy="220.3" r="3.2" fill="#f0f0f0"/><circle cx="952.9" cy="219.4" r="3" fill="#cbcbcb"/><circle cx="952.9" cy="219.7" r="2.0" fill="#2e2e2e"/>
<circle cx="952.9" cy="310.4" r="3.2" fill="#f0f0f0"/><circle cx="952.9" cy="309.5" r="3" fill="#cbcbcb"/><circle cx="952.9" cy="309.8" r="2.0" fill="#2e2e2e"/>
<circle cx="965.8" cy="116.5" r="3.2" fill="#f0f0f0"/><circle cx="965.8" cy="115.6" r="3" fill="#cbcbcb"/><circle cx="965.8" cy="115.9" r="2.0" fill="#2e2e2e"/>
<circle cx="965.8" cy="129.4" r="3.2" fill="#f0f0f0"/><circle cx="965.8" cy="128.5" r="3" fill="#cbcbcb"/><circle cx="965.8" cy="128.8" r="2.0" fill="#2e2e2e"/>
<circle cx="965.8" cy="349.2" r="3.2" fill="#f0f0f0"/><circle cx="965.8" cy="348.3" r="3" fill="#cbcbcb"/><circle cx="965.8" cy="348.6" r="2.0" fill="#2e2e2e"/>
<circle cx="965.8" cy="362.1" r="3.2" fill="#f0f0f0"/><circle cx="965.8" cy="361.2" r="3" fill="#cbcbcb"/><circle cx="965.8" cy="361.5" r="2.0" fill="#2e2e2e"/>
<circle cx="965.8" cy="168.6" r="3.2" fill="#f0f0f0"/><circle cx="965.8" cy="167.7" r="3" fill="#cbcbcb"/><circle cx="965.8" cy="168.0" r="2.0" fill="#2e2e2e"/>
<circle cx="965.8" cy="258.7" r="3.2" fill="#f0f0f0"/><circle cx="965.8" cy="257.8" r="3" fill="#cbcbcb"/><circle cx="965.8" cy="258.1" r="2.0" fill="#2e2e2e"/>
<circle cx="965.8" cy="181.5" r="3.2" fill="#f0f0f0"/><circle cx="965.8" cy="180.6" r="3" fill="#cbcbcb"/><circle cx="965.8" cy="180.9" r="2.0" fill="#2e2e2e"/>
<circle cx="965.8" cy="271.6" r="3.2" fill="#f0f0f0"/><circle cx="965.8" cy="270.7" r="3" fill="#cbcbcb"/><circle cx="965.8" cy="271.0" r="2.0" fill="#2e2e2e"/>
<circle cx="965.8" cy="194.5" r="3.2" fill="#f0f0f0"/><circle cx="965.8" cy="193.6" r="3" fill="#cbcbcb"/><circle cx="965.8" cy="193.9" r="2.0" fill="#2e2e2e"/>
<circle cx="965.8" cy="284.6" r="3.2" fill="#f0f0f0"/><circle cx="965.8" cy="283.7" r="3" fill="#cbcbcb"/><circle cx="965.8" cy="284.0" r="2.0" fill="#2e2e2e"/>
<circle cx="965.8" cy="207.4" r="3.2" fill="#f0f0f0"/><circle cx="965.8" cy="206.5" r="3" fill="#cbcbcb"/><circle cx="965.8" cy="206.8" r="2.0" fill="#2e2e2e"/>
<circle cx="965.8" cy="297.5" r="3.2" fill="#f0f0f0"/><circle cx="965.8" cy="296.6" r="3" fill="#cbcbcb"/><circle cx="965.8" cy="296.9" r="2.0" fill="#2e2e2e"/>
<circle cx="965.8" cy="220.3" r="3.2" fill="#f0f0f0"/><circle cx="965.8" cy="219.4" r="3" fill="#cbcbcb"/><circle cx="965.8" cy="219.7" r="2.0" fill="#2e2e2e"/>
<circle cx="965.8" cy="310.4" r="3.2" fill="#f0f0f0"/><circle cx="965.8" cy="309.5" r="3" fill="#cbcbcb"/><circle cx="965.8" cy="309.8" r="2.0" fill="#2e2e2e"/>
<circle cx="978.7" cy="116.5" r="3.2" fill="#f0f0f0"/><circle cx="978.7" cy="115.6" r="3" fill="#cbcbcb"/><circle cx="978.7" cy="115.9" r="2.0" fill="#2e2e2e"/>
<circle cx="978.7" cy="129.4" r="3.2" fill="#f0f0f0"/><circle cx="978.7" cy="128.5" r="3" fill="#cbcbcb"/><circle cx="978.7" cy="128.8" r="2.0" fill="#2e2e2e"/>
<circle cx="978.7" cy="349.2" r="3.2" fill="#f0f0f0"/><circle cx="978.7" cy="348.3" r="3" fill="#cbcbcb"/><circle cx="978.7" cy="348.6" r="2.0" fill="#2e2e2e"/>
<circle cx="978.7" cy="362.1" r="3.2" fill="#f0f0f0"/><circle cx="978.7" cy="361.2" r="3" fill="#cbcbcb"/><circle cx="978.7" cy="361.5" r="2.0" fill="#2e2e2e"/>
<circle cx="978.7" cy="168.6" r="3.2" fill="#f0f0f0"/><circle cx="978.7" cy="167.7" r="3" fill="#cbcbcb"/><circle cx="978.7" cy="168.0" r="2.0" fill="#2e2e2e"/>
<circle cx="978.7" cy="258.7" r="3.2" fill="#f0f0f0"/><circle cx="978.7" cy="257.8" r="3" fill="#cbcbcb"/><circle cx="978.7" cy="258.1" r="2.0" fill="#2e2e2e"/>
<circle cx="978.7" cy="181.5" r="3.2" fill="#f0f0f0"/><circle cx="978.7" cy="180.6" r="3" fill="#cbcbcb"/><circle cx="978.7" cy="180.9" r="2.0" fill="#2e2e2e"/>
<circle cx="978.7" cy="271.6" r="3.2" fill="#f0f0f0"/><circle cx="978.7" cy="270.7" r="3" fill="#cbcbcb"/><circle cx="978.7" cy="271.0" r="2.0" fill="#2e2e2e"/>
<circle cx="978.7" cy="194.5" r="3.2" fill="#f0f0f0"/><circle cx="978.7" cy="193.6" r="3" fill="#cbcbcb"/><circle cx="978.7" cy="193.9" r="2.0" fill="#2e2e2e"/>
<circle cx="978.7" cy="284.6" r="3.2" fill="#f0f0f0"/><circle cx="978.7" cy="283.7" r="3" fill="#cbcbcb"/><circle cx="978.7" cy="284.0" r="2.0" fill="#2e2e2e"/>
<circle cx="978.7" cy="207.4" r="3.2" fill="#f0f0f0"/><circle cx="978.7" cy="206.5" r="3" fill="#cbcbcb"/><circle cx="978.7" cy="206.8" r="2.0" fill="#2e2e2e"/>
<circle cx="978.7" cy="297.5" r="3.2" fill="#f0f0f0"/><circle cx="978.7" cy="296.6" r="3" fill="#cbcbcb"/><circle cx="978.7" cy="296.9" r="2.0" fill="#2e2e2e"/>
<circle cx="978.7" cy="220.3" r="3.2" fill="#f0f0f0"/><circle cx="978.7" cy="219.4" r="3" fill="#cbcbcb"/><circle cx="978.7" cy="219.7" r="2.0" fill="#2e2e2e"/>
<circle cx="978.7" cy="310.4" r="3.2" fill="#f0f0f0"/><circle cx="978.7" cy="309.5" r="3" fill="#cbcbcb"/><circle cx="978.7" cy="309.8" r="2.0" fill="#2e2e2e"/>
<circle cx="991.6" cy="116.5" r="3.2" fill="#f0f0f0"/><circle cx="991.6" cy="115.6" r="3" fill="#cbcbcb"/><circle cx="991.6" cy="115.9" r="2.0" fill="#2e2e2e"/>
<circle cx="991.6" cy="129.4" r="3.2" fill="#f0f0f0"/><circle cx="991.6" cy="128.5" r="3" fill="#cbcbcb"/><circle cx="991.6" cy="128.8" r="2.0" fill="#2e2e2e"/>
<circle cx="991.6" cy="349.2" r="3.2" fill="#f0f0f0"/><circle cx="991.6" cy="348.3" r="3" fill="#cbcbcb"/><circle cx="991.6" cy="348.6" r="2.0" fill="#2e2e2e"/>
<circle cx="991.6" cy="362.1" r="3.2" fill="#f0f0f0"/><circle cx="991.6" cy="361.2" r="3" fill="#cbcbcb"/><circle cx="991.6" cy="361.5" r="2.0" fill="#2e2e2e"/>
<circle cx="991.6" cy="168.6" r="3.2" fill="#f0f0f0"/><circle cx="991.6" cy="167.7" r="3" fill="#cbcbcb"/><circle cx="991.6" cy="168.0" r="2.0" fill="#2e2e2e"/>
<circle cx="991.6" cy="258.7" r="3.2" fill="#f0f0f0"/><circle cx="991.6" cy="257.8" r="3" fill="#cbcbcb"/><circle cx="991.6" cy="258.1" r="2.0" fill="#2e2e2e"/>
<circle cx="991.6" cy="181.5" r="3.2" fill="#f0f0f0"/><circle cx="991.6" cy="180.6" r="3" fill="#cbcbcb"/><circle cx="991.6" cy="180.9" r="2.0" fill="#2e2e2e"/>
<circle cx="991.6" cy="271.6" r="3.2" fill="#f0f0f0"/><circle cx="991.6" cy="270.7" r="3" fill="#cbcbcb"/><circle cx="991.6" cy="271.0" r="2.0" fill="#2e2e2e"/>
<circle cx="991.6" cy="194.5" r="3.2" fill="#f0f0f0"/><circle cx="991.6" cy="193.6" r="3" fill="#cbcbcb"/><circle cx="991.6" cy="193.9" r="2.0" fill="#2e2e2e"/>
<circle cx="991.6" cy="284.6" r="3.2" fill="#f0f0f0"/><circle cx="991.6" cy="283.7" r="3" fill="#cbcbcb"/><circle cx="991.6" cy="284.0" r="2.0" fill="#2e2e2e"/>
<circle cx="991.6" cy="207.4" r="3.2" fill="#f0f0f0"/><circle cx="991.6" cy="206.5" r="3" fill="#cbcbcb"/><circle cx="991.6" cy="206.8" r="2.0" fill="#2e2e2e"/>
<circle cx="991.6" cy="297.5" r="3.2" fill="#f0f0f0"/><circle cx="991.6" cy="296.6" r="3" fill="#cbcbcb"/><circle cx="991.6" cy="296.9" r="2.0" fill="#2e2e2e"/>
<circle cx="991.6" cy="220.3" r="3.2" fill="#f0f0f0"/><circle cx="991.6" cy="219.4" r="3" fill="#cbcbcb"/><circle cx="991.6" cy="219.7" r="2.0" fill="#2e2e2e"/>
<circle cx="991.6" cy="310.4" r="3.2" fill="#f0f0f0"/><circle cx="991.6" cy="309.5" r="3" fill="#cbcbcb"/><circle cx="991.6" cy="309.8" r="2.0" fill="#2e2e2e"/>
<circle cx="1004.6" cy="116.5" r="3.2" fill="#f0f0f0"/><circle cx="1004.6" cy="115.6" r="3" fill="#cbcbcb"/><circle cx="1004.6" cy="115.9" r="2.0" fill="#2e2e2e"/>
<circle cx="1004.6" cy="129.4" r="3.2" fill="#f0f0f0"/><circle cx="1004.6" cy="128.5" r="3" fill="#cbcbcb"/><circle cx="1004.6" cy="128.8" r="2.0" fill="#2e2e2e"/>
<circle cx="1004.6" cy="349.2" r="3.2" fill="#f0f0f0"/><circle cx="1004.6" cy="348.3" r="3" fill="#cbcbcb"/><circle cx="1004.6" cy="348.6" r="2.0" fill="#2e2e2e"/>
<circle cx="1004.6" cy="362.1" r="3.2" fill="#f0f0f0"/><circle cx="1004.6" cy="361.2" r="3" fill="#cbcbcb"/><circle cx="1004.6" cy="361.5" r="2.0" fill="#2e2e2e"/>
<circle cx="1004.6" cy="168.6" r="3.2" fill="#f0f0f0"/><circle cx="1004.6" cy="167.7" r="3" fill="#cbcbcb"/><circle cx="1004.6" cy="168.0" r="2.0" fill="#2e2e2e"/>
<circle cx="1004.6" cy="258.7" r="3.2" fill="#f0f0f0"/><circle cx="1004.6" cy="257.8" r="3" fill="#cbcbcb"/><circle cx="1004.6" cy="258.1" r="2.0" fill="#2e2e2e"/>
<circle cx="1004.6" cy="181.5" r="3.2" fill="#f0f0f0"/><circle cx="1004.6" cy="180.6" r="3" fill="#cbcbcb"/><circle cx="1004.6" cy="180.9" r="2.0" fill="#2e2e2e"/>
<circle cx="1004.6" cy="271.6" r="3.2" fill="#f0f0f0"/><circle cx="1004.6" cy="270.7" r="3" fill="#cbcbcb"/><circle cx="1004.6" cy="271.0" r="2.0" fill="#2e2e2e"/>
<circle cx="1004.6" cy="194.5" r="3.2" fill="#f0f0f0"/><circle cx="1004.6" cy="193.6" r="3" fill="#cbcbcb"/><circle cx="1004.6" cy="193.9" r="2.0" fill="#2e2e2e"/>
<circle cx="1004.6" cy="284.6" r="3.2" fill="#f0f0f0"/><circle cx="1004.6" cy="283.7" r="3" fill="#cbcbcb"/><circle cx="1004.6" cy="284.0" r="2.0" fill="#2e2e2e"/>
<circle cx="1004.6" cy="207.4" r="3.2" fill="#f0f0f0"/><circle cx="1004.6" cy="206.5" r="3" fill="#cbcbcb"/><circle cx="1004.6" cy="206.8" r="2.0" fill="#2e2e2e"/>
<circle cx="1004.6" cy="297.5" r="3.2" fill="#f0f0f0"/><circle cx="1004.6" cy="296.6" r="3" fill="#cbcbcb"/><circle cx="1004.6" cy="296.9" r="2.0" fill="#2e2e2e"/>
<circle cx="1004.6" cy="220.3" r="3.2" fill="#f0f0f0"/><circle cx="1004.6" cy="219.4" r="3" fill="#cbcbcb"/><circle cx="1004.6" cy="219.7" r="2.0" fill="#2e2e2e"/>
<circle cx="1004.6" cy="310.4" r="3.2" fill="#f0f0f0"/><circle cx="1004.6" cy="309.5" r="3" fill="#cbcbcb"/><circle cx="1004.6" cy="309.8" r="2.0" fill="#2e2e2e"/>
<circle cx="1017.5" cy="116.5" r="3.2" fill="#f0f0f0"/><circle cx="1017.5" cy="115.6" r="3" fill="#cbcbcb"/><circle cx="1017.5" cy="115.9" r="2.0" fill="#2e2e2e"/>
<circle cx="1017.5" cy="129.4" r="3.2" fill="#f0f0f0"/><circle cx="1017.5" cy="128.5" r="3" fill="#cbcbcb"/><circle cx="1017.5" cy="128.8" r="2.0" fill="#2e2e2e"/>
<circle cx="1017.5" cy="349.2" r="3.2" fill="#f0f0f0"/><circle cx="1017.5" cy="348.3" r="3" fill="#cbcbcb"/><circle cx="1017.5" cy="348.6" r="2.0" fill="#2e2e2e"/>
<circle cx="1017.5" cy="362.1" r="3.2" fill="#f0f0f0"/><circle cx="1017.5" cy="361.2" r="3" fill="#cbcbcb"/><circle cx="1017.5" cy="361.5" r="2.0" fill="#2e2e2e"/>
<circle cx="1017.5" cy="168.6" r="3.2" fill="#f0f0f0"/><circle cx="1017.5" cy="167.7" r="3" fill="#cbcbcb"/><circle cx="1017.5" cy="168.0" r="2.0" fill="#2e2e2e"/>
<circle cx="1017.5" cy="258.7" r="3.2" fill="#f0f0f0"/><circle cx="1017.5" cy="257.8" r="3" fill="#cbcbcb"/><circle cx="1017.5" cy="258.1" r="2.0" fill="#2e2e2e"/>
<circle cx="1017.5" cy="181.5" r="3.2" fill="#f0f0f0"/><circle cx="1017.5" cy="180.6" r="3" fill="#cbcbcb"/><circle cx="1017.5" cy="180.9" r="2.0" fill="#2e2e2e"/>
<circle cx="1017.5" cy="271.6" r="3.2" fill="#f0f0f0"/><circle cx="1017.5" cy="270.7" r="3" fill="#cbcbcb"/><circle cx="1017.5" cy="271.0" r="2.0" fill="#2e2e2e"/>
<circle cx="1017.5" cy="194.5" r="3.2" fill="#f0f0f0"/><circle cx="1017.5" cy="193.6" r="3" fill="#cbcbcb"/><circle cx="1017.5" cy="193.9" r="2.0" fill="#2e2e2e"/>
<circle cx="1017.5" cy="284.6" r="3.2" fill="#f0f0f0"/><circle cx="1017.5" cy="283.7" r="3" fill="#cbcbcb"/><circle cx="1017.5" cy="284.0" r="2.0" fill="#2e2e2e"/>
<circle cx="1017.5" cy="207.4" r="3.2" fill="#f0f0f0"/><circle cx="1017.5" cy="206.5" r="3" fill="#cbcbcb"/><circle cx="1017.5" cy="206.8" r="2.0" fill="#2e2e2e"/>
<circle cx="1017.5" cy="297.5" r="3.2" fill="#f0f0f0"/><circle cx="1017.5" cy="296.6" r="3" fill="#cbcbcb"/><circle cx="1017.5" cy="296.9" r="2.0" fill="#2e2e2e"/>
<circle cx="1017.5" cy="220.3" r="3.2" fill="#f0f0f0"/><circle cx="1017.5" cy="219.4" r="3" fill="#cbcbcb"/><circle cx="1017.5" cy="219.7" r="2.0" fill="#2e2e2e"/>
<circle cx="1017.5" cy="310.4" r="3.2" fill="#f0f0f0"/><circle cx="1017.5" cy="309.5" r="3" fill="#cbcbcb"/><circle cx="1017.5" cy="309.8" r="2.0" fill="#2e2e2e"/>
<circle cx="1030.4" cy="116.5" r="3.2" fill="#f0f0f0"/><circle cx="1030.4" cy="115.6" r="3" fill="#cbcbcb"/><circle cx="1030.4" cy="115.9" r="2.0" fill="#2e2e2e"/>
<circle cx="1030.4" cy="129.4" r="3.2" fill="#f0f0f0"/><circle cx="1030.4" cy="128.5" r="3" fill="#cbcbcb"/><circle cx="1030.4" cy="128.8" r="2.0" fill="#2e2e2e"/>
<circle cx="1030.4" cy="349.2" r="3.2" fill="#f0f0f0"/><circle cx="1030.4" cy="348.3" r="3" fill="#cbcbcb"/><circle cx="1030.4" cy="348.6" r="2.0" fill="#2e2e2e"/>
<circle cx="1030.4" cy="362.1" r="3.2" fill="#f0f0f0"/><circle cx="1030.4" cy="361.2" r="3" fill="#cbcbcb"/><circle cx="1030.4" cy="361.5" r="2.0" fill="#2e2e2e"/>
<circle cx="1030.4" cy="168.6" r="3.2" fill="#f0f0f0"/><circle cx="1030.4" cy="167.7" r="3" fill="#cbcbcb"/><circle cx="1030.4" cy="168.0" r="2.0" fill="#2e2e2e"/>
<circle cx="1030.4" cy="258.7" r="3.2" fill="#f0f0f0"/><circle cx="1030.4" cy="257.8" r="3" fill="#cbcbcb"/><circle cx="1030.4" cy="258.1" r="2.0" fill="#2e2e2e"/>
<circle cx="1030.4" cy="181.5" r="3.2" fill="#f0f0f0"/><circle cx="1030.4" cy="180.6" r="3" fill="#cbcbcb"/><circle cx="1030.4" cy="180.9" r="2.0" fill="#2e2e2e"/>
<circle cx="1030.4" cy="271.6" r="3.2" fill="#f0f0f0"/><circle cx="1030.4" cy="270.7" r="3" fill="#cbcbcb"/><circle cx="1030.4" cy="271.0" r="2.0" fill="#2e2e2e"/>
<circle cx="1030.4" cy="194.5" r="3.2" fill="#f0f0f0"/><circle cx="1030.4" cy="193.6" r="3" fill="#cbcbcb"/><circle cx="1030.4" cy="193.9" r="2.0" fill="#2e2e2e"/>
<circle cx="1030.4" cy="284.6" r="3.2" fill="#f0f0f0"/><circle cx="1030.4" cy="283.7" r="3" fill="#cbcbcb"/><circle cx="1030.4" cy="284.0" r="2.0" fill="#2e2e2e"/>
<circle cx="1030.4" cy="207.4" r="3.2" fill="#f0f0f0"/><circle cx="1030.4" cy="206.5" r="3" fill="#cbcbcb"/><circle cx="1030.4" cy="206.8" r="2.0" fill="#2e2e2e"/>
<circle cx="1030.4" cy="297.5" r="3.2" fill="#f0f0f0"/><circle cx="1030.4" cy="296.6" r="3" fill="#cbcbcb"/><circle cx="1030.4" cy="296.9" r="2.0" fill="#2e2e2e"/>
<circle cx="1030.4" cy="220.3" r="3.2" fill="#f0f0f0"/><circle cx="1030.4" cy="219.4" r="3" fill="#cbcbcb"/><circle cx="1030.4" cy="219.7" r="2.0" fill="#2e2e2e"/>
<circle cx="1030.4" cy="310.4" r="3.2" fill="#f0f0f0"/><circle cx="1030.4" cy="309.5" r="3" fill="#cbcbcb"/><circle cx="1030.4" cy="309.8" r="2.0" fill="#2e2e2e"/>
<circle cx="1043.4" cy="116.5" r="3.2" fill="#f0f0f0"/><circle cx="1043.4" cy="115.6" r="3" fill="#cbcbcb"/><circle cx="1043.4" cy="115.9" r="2.0" fill="#2e2e2e"/>
<circle cx="1043.4" cy="129.4" r="3.2" fill="#f0f0f0"/><circle cx="1043.4" cy="128.5" r="3" fill="#cbcbcb"/><circle cx="1043.4" cy="128.8" r="2.0" fill="#2e2e2e"/>
<circle cx="1043.4" cy="349.2" r="3.2" fill="#f0f0f0"/><circle cx="1043.4" cy="348.3" r="3" fill="#cbcbcb"/><circle cx="1043.4" cy="348.6" r="2.0" fill="#2e2e2e"/>
<circle cx="1043.4" cy="362.1" r="3.2" fill="#f0f0f0"/><circle cx="1043.4" cy="361.2" r="3" fill="#cbcbcb"/><circle cx="1043.4" cy="361.5" r="2.0" fill="#2e2e2e"/>
<circle cx="1043.4" cy="168.6" r="3.2" fill="#f0f0f0"/><circle cx="1043.4" cy="167.7" r="3" fill="#cbcbcb"/><circle cx="1043.4" cy="168.0" r="2.0" fill="#2e2e2e"/>
<circle cx="1043.4" cy="258.7" r="3.2" fill="#f0f0f0"/><circle cx="1043.4" cy="257.8" r="3" fill="#cbcbcb"/><circle cx="1043.4" cy="258.1" r="2.0" fill="#2e2e2e"/>
<circle cx="1043.4" cy="181.5" r="3.2" fill="#f0f0f0"/><circle cx="1043.4" cy="180.6" r="3" fill="#cbcbcb"/><circle cx="1043.4" cy="180.9" r="2.0" fill="#2e2e2e"/>
<circle cx="1043.4" cy="271.6" r="3.2" fill="#f0f0f0"/><circle cx="1043.4" cy="270.7" r="3" fill="#cbcbcb"/><circle cx="1043.4" cy="271.0" r="2.0" fill="#2e2e2e"/>
<circle cx="1043.4" cy="194.5" r="3.2" fill="#f0f0f0"/><circle cx="1043.4" cy="193.6" r="3" fill="#cbcbcb"/><circle cx="1043.4" cy="193.9" r="2.0" fill="#2e2e2e"/>
<circle cx="1043.4" cy="284.6" r="3.2" fill="#f0f0f0"/><circle cx="1043.4" cy="283.7" r="3" fill="#cbcbcb"/><circle cx="1043.4" cy="284.0" r="2.0" fill="#2e2e2e"/>
<circle cx="1043.4" cy="207.4" r="3.2" fill="#f0f0f0"/><circle cx="1043.4" cy="206.5" r="3" fill="#cbcbcb"/><circle cx="1043.4" cy="206.8" r="2.0" fill="#2e2e2e"/>
<circle cx="1043.4" cy="297.5" r="3.2" fill="#f0f0f0"/><circle cx="1043.4" cy="296.6" r="3" fill="#cbcbcb"/><circle cx="1043.4" cy="296.9" r="2.0" fill="#2e2e2e"/>
<circle cx="1043.4" cy="220.3" r="3.2" fill="#f0f0f0"/><circle cx="1043.4" cy="219.4" r="3" fill="#cbcbcb"/><circle cx="1043.4" cy="219.7" r="2.0" fill="#2e2e2e"/>
<circle cx="1043.4" cy="310.4" r="3.2" fill="#f0f0f0"/><circle cx="1043.4" cy="309.5" r="3" fill="#cbcbcb"/><circle cx="1043.4" cy="309.8" r="2.0" fill="#2e2e2e"/>
<circle cx="1056.3" cy="116.5" r="3.2" fill="#f0f0f0"/><circle cx="1056.3" cy="115.6" r="3" fill="#cbcbcb"/><circle cx="1056.3" cy="115.9" r="2.0" fill="#2e2e2e"/>
<circle cx="1056.3" cy="129.4" r="3.2" fill="#f0f0f0"/><circle cx="1056.3" cy="128.5" r="3" fill="#cbcbcb"/><circle cx="1056.3" cy="128.8" r="2.0" fill="#2e2e2e"/>
<circle cx="1056.3" cy="349.2" r="3.2" fill="#f0f0f0"/><circle cx="1056.3" cy="348.3" r="3" fill="#cbcbcb"/><circle cx="1056.3" cy="348.6" r="2.0" fill="#2e2e2e"/>
<circle cx="1056.3" cy="362.1" r="3.2" fill="#f0f0f0"/><circle cx="1056.3" cy="361.2" r="3" fill="#cbcbcb"/><circle cx="1056.3" cy="361.5" r="2.0" fill="#2e2e2e"/>
<circle cx="1056.3" cy="168.6" r="3.2" fill="#f0f0f0"/><circle cx="1056.3" cy="167.7" r="3" fill="#cbcbcb"/><circle cx="1056.3" cy="168.0" r="2.0" fill="#2e2e2e"/>
<circle cx="1056.3" cy="258.7" r="3.2" fill="#f0f0f0"/><circle cx="1056.3" cy="257.8" r="3" fill="#cbcbcb"/><circle cx="1056.3" cy="258.1" r="2.0" fill="#2e2e2e"/>
<circle cx="1056.3" cy="181.5" r="3.2" fill="#f0f0f0"/><circle cx="1056.3" cy="180.6" r="3" fill="#cbcbcb"/><circle cx="1056.3" cy="180.9" r="2.0" fill="#2e2e2e"/>
<circle cx="1056.3" cy="271.6" r="3.2" fill="#f0f0f0"/><circle cx="1056.3" cy="270.7" r="3" fill="#cbcbcb"/><circle cx="1056.3" cy="271.0" r="2.0" fill="#2e2e2e"/>
<circle cx="1056.3" cy="194.5" r="3.2" fill="#f0f0f0"/><circle cx="1056.3" cy="193.6" r="3" fill="#cbcbcb"/><circle cx="1056.3" cy="193.9" r="2.0" fill="#2e2e2e"/>
<circle cx="1056.3" cy="284.6" r="3.2" fill="#f0f0f0"/><circle cx="1056.3" cy="283.7" r="3" fill="#cbcbcb"/><circle cx="1056.3" cy="284.0" r="2.0" fill="#2e2e2e"/>
<circle cx="1056.3" cy="207.4" r="3.2" fill="#f0f0f0"/><circle cx="1056.3" cy="206.5" r="3" fill="#cbcbcb"/><circle cx="1056.3" cy="206.8" r="2.0" fill="#2e2e2e"/>
<circle cx="1056.3" cy="297.5" r="3.2" fill="#f0f0f0"/><circle cx="1056.3" cy="296.6" r="3" fill="#cbcbcb"/><circle cx="1056.3" cy="296.9" r="2.0" fill="#2e2e2e"/>
<circle cx="1056.3" cy="220.3" r="3.2" fill="#f0f0f0"/><circle cx="1056.3" cy="219.4" r="3" fill="#cbcbcb"/><circle cx="1056.3" cy="219.7" r="2.0" fill="#2e2e2e"/>
<circle cx="1056.3" cy="310.4" r="3.2" fill="#f0f0f0"/><circle cx="1056.3" cy="309.5" r="3" fill="#cbcbcb"/><circle cx="1056.3" cy="309.8" r="2.0" fill="#2e2e2e"/>
<circle cx="1069.2" cy="116.5" r="3.2" fill="#f0f0f0"/><circle cx="1069.2" cy="115.6" r="3" fill="#cbcbcb"/><circle cx="1069.2" cy="115.9" r="2.0" fill="#2e2e2e"/>
<circle cx="1069.2" cy="129.4" r="3.2" fill="#f0f0f0"/><circle cx="1069.2" cy="128.5" r="3" fill="#cbcbcb"/><circle cx="1069.2" cy="128.8" r="2.0" fill="#2e2e2e"/>
<circle cx="1069.2" cy="349.2" r="3.2" fill="#f0f0f0"/><circle cx="1069.2" cy="348.3" r="3" fill="#cbcbcb"/><circle cx="1069.2" cy="348.6" r="2.0" fill="#2e2e2e"/>
<circle cx="1069.2" cy="362.1" r="3.2" fill="#f0f0f0"/><circle cx="1069.2" cy="361.2" r="3" fill="#cbcbcb"/><circle cx="1069.2" cy="361.5" r="2.0" fill="#2e2e2e"/>
<circle cx="1069.2" cy="168.6" r="3.2" fill="#f0f0f0"/><circle cx="1069.2" cy="167.7" r="3" fill="#cbcbcb"/><circle cx="1069.2" cy="168.0" r="2.0" fill="#2e2e2e"/>
<circle cx="1069.2" cy="258.7" r="3.2" fill="#f0f0f0"/><circle cx="1069.2" cy="257.8" r="3" fill="#cbcbcb"/><circle cx="1069.2" cy="258.1" r="2.0" fill="#2e2e2e"/>
<circle cx="1069.2" cy="181.5" r="3.2" fill="#f0f0f0"/><circle cx="1069.2" cy="180.6" r="3" fill="#cbcbcb"/><circle cx="1069.2" cy="180.9" r="2.0" fill="#2e2e2e"/>
<circle cx="1069.2" cy="271.6" r="3.2" fill="#f0f0f0"/><circle cx="1069.2" cy="270.7" r="3" fill="#cbcbcb"/><circle cx="1069.2" cy="271.0" r="2.0" fill="#2e2e2e"/>
<circle cx="1069.2" cy="194.5" r="3.2" fill="#f0f0f0"/><circle cx="1069.2" cy="193.6" r="3" fill="#cbcbcb"/><circle cx="1069.2" cy="193.9" r="2.0" fill="#2e2e2e"/>
<circle cx="1069.2" cy="284.6" r="3.2" fill="#f0f0f0"/><circle cx="1069.2" cy="283.7" r="3" fill="#cbcbcb"/><circle cx="1069.2" cy="284.0" r="2.0" fill="#2e2e2e"/>
<circle cx="1069.2" cy="207.4" r="3.2" fill="#f0f0f0"/><circle cx="1069.2" cy="206.5" r="3" fill="#cbcbcb"/><circle cx="1069.2" cy="206.8" r="2.0" fill="#2e2e2e"/>
<circle cx="1069.2" cy="297.5" r="3.2" fill="#f0f0f0"/><circle cx="1069.2" cy="296.6" r="3" fill="#cbcbcb"/><circle cx="1069.2" cy="296.9" r="2.0" fill="#2e2e2e"/>
<circle cx="1069.2" cy="220.3" r="3.2" fill="#f0f0f0"/><circle cx="1069.2" cy="219.4" r="3" fill="#cbcbcb"/><circle cx="1069.2" cy="219.7" r="2.0" fill="#2e2e2e"/>
<circle cx="1069.2" cy="310.4" r="3.2" fill="#f0f0f0"/><circle cx="1069.2" cy="309.5" r="3" fill="#cbcbcb"/><circle cx="1069.2" cy="309.8" r="2.0" fill="#2e2e2e"/>
<circle cx="1082.2" cy="116.5" r="3.2" fill="#f0f0f0"/><circle cx="1082.2" cy="115.6" r="3" fill="#cbcbcb"/><circle cx="1082.2" cy="115.9" r="2.0" fill="#2e2e2e"/>
<circle cx="1082.2" cy="129.4" r="3.2" fill="#f0f0f0"/><circle cx="1082.2" cy="128.5" r="3" fill="#cbcbcb"/><circle cx="1082.2" cy="128.8" r="2.0" fill="#2e2e2e"/>
<circle cx="1082.2" cy="349.2" r="3.2" fill="#f0f0f0"/><circle cx="1082.2" cy="348.3" r="3" fill="#cbcbcb"/><circle cx="1082.2" cy="348.6" r="2.0" fill="#2e2e2e"/>
<circle cx="1082.2" cy="362.1" r="3.2" fill="#f0f0f0"/><circle cx="1082.2" cy="361.2" r="3" fill="#cbcbcb"/><circle cx="1082.2" cy="361.5" r="2.0" fill="#2e2e2e"/>
<circle cx="1082.2" cy="168.6" r="3.2" fill="#f0f0f0"/><circle cx="1082.2" cy="167.7" r="3" fill="#cbcbcb"/><circle cx="1082.2" cy="168.0" r="2.0" fill="#2e2e2e"/>
<circle cx="1082.2" cy="258.7" r="3.2" fill="#f0f0f0"/><circle cx="1082.2" cy="257.8" r="3" fill="#cbcbcb"/><circle cx="1082.2" cy="258.1" r="2.0" fill="#2e2e2e"/>
<circle cx="1082.2" cy="181.5" r="3.2" fill="#f0f0f0"/><circle cx="1082.2" cy="180.6" r="3" fill="#cbcbcb"/><circle cx="1082.2" cy="180.9" r="2.0" fill="#2e2e2e"/>
<circle cx="1082.2" cy="271.6" r="3.2" fill="#f0f0f0"/><circle cx="1082.2" cy="270.7" r="3" fill="#cbcbcb"/><circle cx="1082.2" cy="271.0" r="2.0" fill="#2e2e2e"/>
<circle cx="1082.2" cy="194.5" r="3.2" fill="#f0f0f0"/><circle cx="1082.2" cy="193.6" r="3" fill="#cbcbcb"/><circle cx="1082.2" cy="193.9" r="2.0" fill="#2e2e2e"/>
<circle cx="1082.2" cy="284.6" r="3.2" fill="#f0f0f0"/><circle cx="1082.2" cy="283.7" r="3" fill="#cbcbcb"/><circle cx="1082.2" cy="284.0" r="2.0" fill="#2e2e2e"/>
<circle cx="1082.2" cy="207.4" r="3.2" fill="#f0f0f0"/><circle cx="1082.2" cy="206.5" r="3" fill="#cbcbcb"/><circle cx="1082.2" cy="206.8" r="2.0" fill="#2e2e2e"/>
<circle cx="1082.2" cy="297.5" r="3.2" fill="#f0f0f0"/><circle cx="1082.2" cy="296.6" r="3" fill="#cbcbcb"/><circle cx="1082.2" cy="296.9" r="2.0" fill="#2e2e2e"/>
<circle cx="1082.2" cy="220.3" r="3.2" fill="#f0f0f0"/><circle cx="1082.2" cy="219.4" r="3" fill="#cbcbcb"/><circle cx="1082.2" cy="219.7" r="2.0" fill="#2e2e2e"/>
<circle cx="1082.2" cy="310.4" r="3.2" fill="#f0f0f0"/><circle cx="1082.2" cy="309.5" r="3" fill="#cbcbcb"/><circle cx="1082.2" cy="309.8" r="2.0" fill="#2e2e2e"/>
<circle cx="1095.1" cy="116.5" r="3.2" fill="#f0f0f0"/><circle cx="1095.1" cy="115.6" r="3" fill="#cbcbcb"/><circle cx="1095.1" cy="115.9" r="2.0" fill="#2e2e2e"/>
<circle cx="1095.1" cy="129.4" r="3.2" fill="#f0f0f0"/><circle cx="1095.1" cy="128.5" r="3" fill="#cbcbcb"/><circle cx="1095.1" cy="128.8" r="2.0" fill="#2e2e2e"/>
<circle cx="1095.1" cy="349.2" r="3.2" fill="#f0f0f0"/><circle cx="1095.1" cy="348.3" r="3" fill="#cbcbcb"/><circle cx="1095.1" cy="348.6" r="2.0" fill="#2e2e2e"/>
<circle cx="1095.1" cy="362.1" r="3.2" fill="#f0f0f0"/><circle cx="1095.1" cy="361.2" r="3" fill="#cbcbcb"/><circle cx="1095.1" cy="361.5" r="2.0" fill="#2e2e2e"/>
<circle cx="1095.1" cy="168.6" r="3.2" fill="#f0f0f0"/><circle cx="1095.1" cy="167.7" r="3" fill="#cbcbcb"/><circle cx="1095.1" cy="168.0" r="2.0" fill="#2e2e2e"/>
<circle cx="1095.1" cy="258.7" r="3.2" fill="#f0f0f0"/><circle cx="1095.1" cy="257.8" r="3" fill="#cbcbcb"/><circle cx="1095.1" cy="258.1" r="2.0" fill="#2e2e2e"/>
<circle cx="1095.1" cy="181.5" r="3.2" fill="#f0f0f0"/><circle cx="1095.1" cy="180.6" r="3" fill="#cbcbcb"/><circle cx="1095.1" cy="180.9" r="2.0" fill="#2e2e2e"/>
<circle cx="1095.1" cy="271.6" r="3.2" fill="#f0f0f0"/><circle cx="1095.1" cy="270.7" r="3" fill="#cbcbcb"/><circle cx="1095.1" cy="271.0" r="2.0" fill="#2e2e2e"/>
<circle cx="1095.1" cy="194.5" r="3.2" fill="#f0f0f0"/><circle cx="1095.1" cy="193.6" r="3" fill="#cbcbcb"/><circle cx="1095.1" cy="193.9" r="2.0" fill="#2e2e2e"/>
<circle cx="1095.1" cy="284.6" r="3.2" fill="#f0f0f0"/><circle cx="1095.1" cy="283.7" r="3" fill="#cbcbcb"/><circle cx="1095.1" cy="284.0" r="2.0" fill="#2e2e2e"/>
<circle cx="1095.1" cy="207.4" r="3.2" fill="#f0f0f0"/><circle cx="1095.1" cy="206.5" r="3" fill="#cbcbcb"/><circle cx="1095.1" cy="206.8" r="2.0" fill="#2e2e2e"/>
<circle cx="1095.1" cy="297.5" r="3.2" fill="#f0f0f0"/><circle cx="1095.1" cy="296.6" r="3" fill="#cbcbcb"/><circle cx="1095.1" cy="296.9" r="2.0" fill="#2e2e2e"/>
<circle cx="1095.1" cy="220.3" r="3.2" fill="#f0f0f0"/><circle cx="1095.1" cy="219.4" r="3" fill="#cbcbcb"/><circle cx="1095.1" cy="219.7" r="2.0" fill="#2e2e2e"/>
<circle cx="1095.1" cy="310.4" r="3.2" fill="#f0f0f0"/><circle cx="1095.1" cy="309.5" r="3" fill="#cbcbcb"/><circle cx="1095.1" cy="309.8" r="2.0" fill="#2e2e2e"/>
<circle cx="1108.0" cy="116.5" r="3.2" fill="#f0f0f0"/><circle cx="1108.0" cy="115.6" r="3" fill="#cbcbcb"/><circle cx="1108.0" cy="115.9" r="2.0" fill="#2e2e2e"/>
<circle cx="1108.0" cy="129.4" r="3.2" fill="#f0f0f0"/><circle cx="1108.0" cy="128.5" r="3" fill="#cbcbcb"/><circle cx="1108.0" cy="128.8" r="2.0" fill="#2e2e2e"/>
<circle cx="1108.0" cy="349.2" r="3.2" fill="#f0f0f0"/><circle cx="1108.0" cy="348.3" r="3" fill="#cbcbcb"/><circle cx="1108.0" cy="348.6" r="2.0" fill="#2e2e2e"/>
<circle cx="1108.0" cy="362.1" r="3.2" fill="#f0f0f0"/><circle cx="1108.0" cy="361.2" r="3" fill="#cbcbcb"/><circle cx="1108.0" cy="361.5" r="2.0" fill="#2e2e2e"/>
<circle cx="1108.0" cy="168.6" r="3.2" fill="#f0f0f0"/><circle cx="1108.0" cy="167.7" r="3" fill="#cbcbcb"/><circle cx="1108.0" cy="168.0" r="2.0" fill="#2e2e2e"/>
<circle cx="1108.0" cy="258.7" r="3.2" fill="#f0f0f0"/><circle cx="1108.0" cy="257.8" r="3" fill="#cbcbcb"/><circle cx="1108.0" cy="258.1" r="2.0" fill="#2e2e2e"/>
<circle cx="1108.0" cy="181.5" r="3.2" fill="#f0f0f0"/><circle cx="1108.0" cy="180.6" r="3" fill="#cbcbcb"/><circle cx="1108.0" cy="180.9" r="2.0" fill="#2e2e2e"/>
<circle cx="1108.0" cy="271.6" r="3.2" fill="#f0f0f0"/><circle cx="1108.0" cy="270.7" r="3" fill="#cbcbcb"/><circle cx="1108.0" cy="271.0" r="2.0" fill="#2e2e2e"/>
<circle cx="1108.0" cy="194.5" r="3.2" fill="#f0f0f0"/><circle cx="1108.0" cy="193.6" r="3" fill="#cbcbcb"/><circle cx="1108.0" cy="193.9" r="2.0" fill="#2e2e2e"/>
<circle cx="1108.0" cy="284.6" r="3.2" fill="#f0f0f0"/><circle cx="1108.0" cy="283.7" r="3" fill="#cbcbcb"/><circle cx="1108.0" cy="284.0" r="2.0" fill="#2e2e2e"/>
<circle cx="1108.0" cy="207.4" r="3.2" fill="#f0f0f0"/><circle cx="1108.0" cy="206.5" r="3" fill="#cbcbcb"/><circle cx="1108.0" cy="206.8" r="2.0" fill="#2e2e2e"/>
<circle cx="1108.0" cy="297.5" r="3.2" fill="#f0f0f0"/><circle cx="1108.0" cy="296.6" r="3" fill="#cbcbcb"/><circle cx="1108.0" cy="296.9" r="2.0" fill="#2e2e2e"/>
<circle cx="1108.0" cy="220.3" r="3.2" fill="#f0f0f0"/><circle cx="1108.0" cy="219.4" r="3" fill="#cbcbcb"/><circle cx="1108.0" cy="219.7" r="2.0" fill="#2e2e2e"/>
<circle cx="1108.0" cy="310.4" r="3.2" fill="#f0f0f0"/><circle cx="1108.0" cy="309.5" r="3" fill="#cbcbcb"/><circle cx="1108.0" cy="309.8" r="2.0" fill="#2e2e2e"/>
<circle cx="1120.9" cy="116.5" r="3.2" fill="#f0f0f0"/><circle cx="1120.9" cy="115.6" r="3" fill="#cbcbcb"/><circle cx="1120.9" cy="115.9" r="2.0" fill="#2e2e2e"/>
<circle cx="1120.9" cy="129.4" r="3.2" fill="#f0f0f0"/><circle cx="1120.9" cy="128.5" r="3" fill="#cbcbcb"/><circle cx="1120.9" cy="128.8" r="2.0" fill="#2e2e2e"/>
<circle cx="1120.9" cy="349.2" r="3.2" fill="#f0f0f0"/><circle cx="1120.9" cy="348.3" r="3" fill="#cbcbcb"/><circle cx="1120.9" cy="348.6" r="2.0" fill="#2e2e2e"/>
<circle cx="1120.9" cy="362.1" r="3.2" fill="#f0f0f0"/><circle cx="1120.9" cy="361.2" r="3" fill="#cbcbcb"/><circle cx="1120.9" cy="361.5" r="2.0" fill="#2e2e2e"/>
<circle cx="1120.9" cy="168.6" r="3.2" fill="#f0f0f0"/><circle cx="1120.9" cy="167.7" r="3" fill="#cbcbcb"/><circle cx="1120.9" cy="168.0" r="2.0" fill="#2e2e2e"/>
<circle cx="1120.9" cy="258.7" r="3.2" fill="#f0f0f0"/><circle cx="1120.9" cy="257.8" r="3" fill="#cbcbcb"/><circle cx="1120.9" cy="258.1" r="2.0" fill="#2e2e2e"/>
<circle cx="1120.9" cy="181.5" r="3.2" fill="#f0f0f0"/><circle cx="1120.9" cy="180.6" r="3" fill="#cbcbcb"/><circle cx="1120.9" cy="180.9" r="2.0" fill="#2e2e2e"/>
<circle cx="1120.9" cy="271.6" r="3.2" fill="#f0f0f0"/><circle cx="1120.9" cy="270.7" r="3" fill="#cbcbcb"/><circle cx="1120.9" cy="271.0" r="2.0" fill="#2e2e2e"/>
<circle cx="1120.9" cy="194.5" r="3.2" fill="#f0f0f0"/><circle cx="1120.9" cy="193.6" r="3" fill="#cbcbcb"/><circle cx="1120.9" cy="193.9" r="2.0" fill="#2e2e2e"/>
<circle cx="1120.9" cy="284.6" r="3.2" fill="#f0f0f0"/><circle cx="1120.9" cy="283.7" r="3" fill="#cbcbcb"/><circle cx="1120.9" cy="284.0" r="2.0" fill="#2e2e2e"/>
<circle cx="1120.9" cy="207.4" r="3.2" fill="#f0f0f0"/><circle cx="1120.9" cy="206.5" r="3" fill="#cbcbcb"/><circle cx="1120.9" cy="206.8" r="2.0" fill="#2e2e2e"/>
<circle cx="1120.9" cy="297.5" r="3.2" fill="#f0f0f0"/><circle cx="1120.9" cy="296.6" r="3" fill="#cbcbcb"/><circle cx="1120.9" cy="296.9" r="2.0" fill="#2e2e2e"/>
<circle cx="1120.9" cy="220.3" r="3.2" fill="#f0f0f0"/><circle cx="1120.9" cy="219.4" r="3" fill="#cbcbcb"/><circle cx="1120.9" cy="219.7" r="2.0" fill="#2e2e2e"/>
<circle cx="1120.9" cy="310.4" r="3.2" fill="#f0f0f0"/><circle cx="1120.9" cy="309.5" r="3" fill="#cbcbcb"/><circle cx="1120.9" cy="309.8" r="2.0" fill="#2e2e2e"/>
<circle cx="1133.9" cy="116.5" r="3.2" fill="#f0f0f0"/><circle cx="1133.9" cy="115.6" r="3" fill="#cbcbcb"/><circle cx="1133.9" cy="115.9" r="2.0" fill="#2e2e2e"/>
<circle cx="1133.9" cy="129.4" r="3.2" fill="#f0f0f0"/><circle cx="1133.9" cy="128.5" r="3" fill="#cbcbcb"/><circle cx="1133.9" cy="128.8" r="2.0" fill="#2e2e2e"/>
<circle cx="1133.9" cy="349.2" r="3.2" fill="#f0f0f0"/><circle cx="1133.9" cy="348.3" r="3" fill="#cbcbcb"/><circle cx="1133.9" cy="348.6" r="2.0" fill="#2e2e2e"/>
<circle cx="1133.9" cy="362.1" r="3.2" fill="#f0f0f0"/><circle cx="1133.9" cy="361.2" r="3" fill="#cbcbcb"/><circle cx="1133.9" cy="361.5" r="2.0" fill="#2e2e2e"/>
<circle cx="1133.9" cy="168.6" r="3.2" fill="#f0f0f0"/><circle cx="1133.9" cy="167.7" r="3" fill="#cbcbcb"/><circle cx="1133.9" cy="168.0" r="2.0" fill="#2e2e2e"/>
<circle cx="1133.9" cy="258.7" r="3.2" fill="#f0f0f0"/><circle cx="1133.9" cy="257.8" r="3" fill="#cbcbcb"/><circle cx="1133.9" cy="258.1" r="2.0" fill="#2e2e2e"/>
<circle cx="1133.9" cy="181.5" r="3.2" fill="#f0f0f0"/><circle cx="1133.9" cy="180.6" r="3" fill="#cbcbcb"/><circle cx="1133.9" cy="180.9" r="2.0" fill="#2e2e2e"/>
<circle cx="1133.9" cy="271.6" r="3.2" fill="#f0f0f0"/><circle cx="1133.9" cy="270.7" r="3" fill="#cbcbcb"/><circle cx="1133.9" cy="271.0" r="2.0" fill="#2e2e2e"/>
<circle cx="1133.9" cy="194.5" r="3.2" fill="#f0f0f0"/><circle cx="1133.9" cy="193.6" r="3" fill="#cbcbcb"/><circle cx="1133.9" cy="193.9" r="2.0" fill="#2e2e2e"/>
<circle cx="1133.9" cy="284.6" r="3.2" fill="#f0f0f0"/><circle cx="1133.9" cy="283.7" r="3" fill="#cbcbcb"/><circle cx="1133.9" cy="284.0" r="2.0" fill="#2e2e2e"/>
<circle cx="1133.9" cy="207.4" r="3.2" fill="#f0f0f0"/><circle cx="1133.9" cy="206.5" r="3" fill="#cbcbcb"/><circle cx="1133.9" cy="206.8" r="2.0" fill="#2e2e2e"/>
<circle cx="1133.9" cy="297.5" r="3.2" fill="#f0f0f0"/><circle cx="1133.9" cy="296.6" r="3" fill="#cbcbcb"/><circle cx="1133.9" cy="296.9" r="2.0" fill="#2e2e2e"/>
<circle cx="1133.9" cy="220.3" r="3.2" fill="#f0f0f0"/><circle cx="1133.9" cy="219.4" r="3" fill="#cbcbcb"/><circle cx="1133.9" cy="219.7" r="2.0" fill="#2e2e2e"/>
<circle cx="1133.9" cy="310.4" r="3.2" fill="#f0f0f0"/><circle cx="1133.9" cy="309.5" r="3" fill="#cbcbcb"/><circle cx="1133.9" cy="309.8" r="2.0" fill="#2e2e2e"/>
<circle cx="1146.8" cy="116.5" r="3.2" fill="#f0f0f0"/><circle cx="1146.8" cy="115.6" r="3" fill="#cbcbcb"/><circle cx="1146.8" cy="115.9" r="2.0" fill="#2e2e2e"/>
<circle cx="1146.8" cy="129.4" r="3.2" fill="#f0f0f0"/><circle cx="1146.8" cy="128.5" r="3" fill="#cbcbcb"/><circle cx="1146.8" cy="128.8" r="2.0" fill="#2e2e2e"/>
<circle cx="1146.8" cy="349.2" r="3.2" fill="#f0f0f0"/><circle cx="1146.8" cy="348.3" r="3" fill="#cbcbcb"/><circle cx="1146.8" cy="348.6" r="2.0" fill="#2e2e2e"/>
<circle cx="1146.8" cy="362.1" r="3.2" fill="#f0f0f0"/><circle cx="1146.8" cy="361.2" r="3" fill="#cbcbcb"/><circle cx="1146.8" cy="361.5" r="2.0" fill="#2e2e2e"/>
<circle cx="1146.8" cy="168.6" r="3.2" fill="#f0f0f0"/><circle cx="1146.8" cy="167.7" r="3" fill="#cbcbcb"/><circle cx="1146.8" cy="168.0" r="2.0" fill="#2e2e2e"/>
<circle cx="1146.8" cy="258.7" r="3.2" fill="#f0f0f0"/><circle cx="1146.8" cy="257.8" r="3" fill="#cbcbcb"/><circle cx="1146.8" cy="258.1" r="2.0" fill="#2e2e2e"/>
<circle cx="1146.8" cy="181.5" r="3.2" fill="#f0f0f0"/><circle cx="1146.8" cy="180.6" r="3" fill="#cbcbcb"/><circle cx="1146.8" cy="180.9" r="2.0" fill="#2e2e2e"/>
<circle cx="1146.8" cy="271.6" r="3.2" fill="#f0f0f0"/><circle cx="1146.8" cy="270.7" r="3" fill="#cbcbcb"/><circle cx="1146.8" cy="271.0" r="2.0" fill="#2e2e2e"/>
<circle cx="1146.8" cy="194.5" r="3.2" fill="#f0f0f0"/><circle cx="1146.8" cy="193.6" r="3" fill="#cbcbcb"/><circle cx="1146.8" cy="193.9" r="2.0" fill="#2e2e2e"/>
<circle cx="1146.8" cy="284.6" r="3.2" fill="#f0f0f0"/><circle cx="1146.8" cy="283.7" r="3" fill="#cbcbcb"/><circle cx="1146.8" cy="284.0" r="2.0" fill="#2e2e2e"/>
<circle cx="1146.8" cy="207.4" r="3.2" fill="#f0f0f0"/><circle cx="1146.8" cy="206.5" r="3" fill="#cbcbcb"/><circle cx="1146.8" cy="206.8" r="2.0" fill="#2e2e2e"/>
<circle cx="1146.8" cy="297.5" r="3.2" fill="#f0f0f0"/><circle cx="1146.8" cy="296.6" r="3" fill="#cbcbcb"/><circle cx="1146.8" cy="296.9" r="2.0" fill="#2e2e2e"/>
<circle cx="1146.8" cy="220.3" r="3.2" fill="#f0f0f0"/><circle cx="1146.8" cy="219.4" r="3" fill="#cbcbcb"/><circle cx="1146.8" cy="219.7" r="2.0" fill="#2e2e2e"/>
<circle cx="1146.8" cy="310.4" r="3.2" fill="#f0f0f0"/><circle cx="1146.8" cy="309.5" r="3" fill="#cbcbcb"/><circle cx="1146.8" cy="309.8" r="2.0" fill="#2e2e2e"/>
<circle cx="1159.7" cy="116.5" r="3.2" fill="#f0f0f0"/><circle cx="1159.7" cy="115.6" r="3" fill="#cbcbcb"/><circle cx="1159.7" cy="115.9" r="2.0" fill="#2e2e2e"/>
<circle cx="1159.7" cy="129.4" r="3.2" fill="#f0f0f0"/><circle cx="1159.7" cy="128.5" r="3" fill="#cbcbcb"/><circle cx="1159.7" cy="128.8" r="2.0" fill="#2e2e2e"/>
<circle cx="1159.7" cy="349.2" r="3.2" fill="#f0f0f0"/><circle cx="1159.7" cy="348.3" r="3" fill="#cbcbcb"/><circle cx="1159.7" cy="348.6" r="2.0" fill="#2e2e2e"/>
<circle cx="1159.7" cy="362.1" r="3.2" fill="#f0f0f0"/><circle cx="1159.7" cy="361.2" r="3" fill="#cbcbcb"/><circle cx="1159.7" cy="361.5" r="2.0" fill="#2e2e2e"/>
<circle cx="1159.7" cy="168.6" r="3.2" fill="#f0f0f0"/><circle cx="1159.7" cy="167.7" r="3" fill="#cbcbcb"/><circle cx="1159.7" cy="168.0" r="2.0" fill="#2e2e2e"/>
<circle cx="1159.7" cy="258.7" r="3.2" fill="#f0f0f0"/><circle cx="1159.7" cy="257.8" r="3" fill="#cbcbcb"/><circle cx="1159.7" cy="258.1" r="2.0" fill="#2e2e2e"/>
<circle cx="1159.7" cy="181.5" r="3.2" fill="#f0f0f0"/><circle cx="1159.7" cy="180.6" r="3" fill="#cbcbcb"/><circle cx="1159.7" cy="180.9" r="2.0" fill="#2e2e2e"/>
<circle cx="1159.7" cy="271.6" r="3.2" fill="#f0f0f0"/><circle cx="1159.7" cy="270.7" r="3" fill="#cbcbcb"/><circle cx="1159.7" cy="271.0" r="2.0" fill="#2e2e2e"/>
<circle cx="1159.7" cy="194.5" r="3.2" fill="#f0f0f0"/><circle cx="1159.7" cy="193.6" r="3" fill="#cbcbcb"/><circle cx="1159.7" cy="193.9" r="2.0" fill="#2e2e2e"/>
<circle cx="1159.7" cy="284.6" r="3.2" fill="#f0f0f0"/><circle cx="1159.7" cy="283.7" r="3" fill="#cbcbcb"/><circle cx="1159.7" cy="284.0" r="2.0" fill="#2e2e2e"/>
<circle cx="1159.7" cy="207.4" r="3.2" fill="#f0f0f0"/><circle cx="1159.7" cy="206.5" r="3" fill="#cbcbcb"/><circle cx="1159.7" cy="206.8" r="2.0" fill="#2e2e2e"/>
<circle cx="1159.7" cy="297.5" r="3.2" fill="#f0f0f0"/><circle cx="1159.7" cy="296.6" r="3" fill="#cbcbcb"/><circle cx="1159.7" cy="296.9" r="2.0" fill="#2e2e2e"/>
<circle cx="1159.7" cy="220.3" r="3.2" fill="#f0f0f0"/><circle cx="1159.7" cy="219.4" r="3" fill="#cbcbcb"/><circle cx="1159.7" cy="219.7" r="2.0" fill="#2e2e2e"/>
<circle cx="1159.7" cy="310.4" r="3.2" fill="#f0f0f0"/><circle cx="1159.7" cy="309.5" r="3" fill="#cbcbcb"/><circle cx="1159.7" cy="309.8" r="2.0" fill="#2e2e2e"/>
<circle cx="1172.7" cy="116.5" r="3.2" fill="#f0f0f0"/><circle cx="1172.7" cy="115.6" r="3" fill="#cbcbcb"/><circle cx="1172.7" cy="115.9" r="2.0" fill="#2e2e2e"/>
<circle cx="1172.7" cy="129.4" r="3.2" fill="#f0f0f0"/><circle cx="1172.7" cy="128.5" r="3" fill="#cbcbcb"/><circle cx="1172.7" cy="128.8" r="2.0" fill="#2e2e2e"/>
<circle cx="1172.7" cy="349.2" r="3.2" fill="#f0f0f0"/><circle cx="1172.7" cy="348.3" r="3" fill="#cbcbcb"/><circle cx="1172.7" cy="348.6" r="2.0" fill="#2e2e2e"/>
<circle cx="1172.7" cy="362.1" r="3.2" fill="#f0f0f0"/><circle cx="1172.7" cy="361.2" r="3" fill="#cbcbcb"/><circle cx="1172.7" cy="361.5" r="2.0" fill="#2e2e2e"/>
<circle cx="1172.7" cy="168.6" r="3.2" fill="#f0f0f0"/><circle cx="1172.7" cy="167.7" r="3" fill="#cbcbcb"/><circle cx="1172.7" cy="168.0" r="2.0" fill="#2e2e2e"/>
<circle cx="1172.7" cy="258.7" r="3.2" fill="#f0f0f0"/><circle cx="1172.7" cy="257.8" r="3" fill="#cbcbcb"/><circle cx="1172.7" cy="258.1" r="2.0" fill="#2e2e2e"/>
<circle cx="1172.7" cy="181.5" r="3.2" fill="#f0f0f0"/><circle cx="1172.7" cy="180.6" r="3" fill="#cbcbcb"/><circle cx="1172.7" cy="180.9" r="2.0" fill="#2e2e2e"/>
<circle cx="1172.7" cy="271.6" r="3.2" fill="#f0f0f0"/><circle cx="1172.7" cy="270.7" r="3" fill="#cbcbcb"/><circle cx="1172.7" cy="271.0" r="2.0" fill="#2e2e2e"/>
<circle cx="1172.7" cy="194.5" r="3.2" fill="#f0f0f0"/><circle cx="1172.7" cy="193.6" r="3" fill="#cbcbcb"/><circle cx="1172.7" cy="193.9" r="2.0" fill="#2e2e2e"/>
<circle cx="1172.7" cy="284.6" r="3.2" fill="#f0f0f0"/><circle cx="1172.7" cy="283.7" r="3" fill="#cbcbcb"/><circle cx="1172.7" cy="284.0" r="2.0" fill="#2e2e2e"/>
<circle cx="1172.7" cy="207.4" r="3.2" fill="#f0f0f0"/><circle cx="1172.7" cy="206.5" r="3" fill="#cbcbcb"/><circle cx="1172.7" cy="206.8" r="2.0" fill="#2e2e2e"/>
<circle cx="1172.7" cy="297.5" r="3.2" fill="#f0f0f0"/><circle cx="1172.7" cy="296.6" r="3" fill="#cbcbcb"/><circle cx="1172.7" cy="296.9" r="2.0" fill="#2e2e2e"/>
<circle cx="1172.7" cy="220.3" r="3.2" fill="#f0f0f0"/><circle cx="1172.7" cy="219.4" r="3" fill="#cbcbcb"/><circle cx="1172.7" cy="219.7" r="2.0" fill="#2e2e2e"/>
<circle cx="1172.7" cy="310.4" r="3.2" fill="#f0f0f0"/><circle cx="1172.7" cy="309.5" r="3" fill="#cbcbcb"/><circle cx="1172.7" cy="309.8" r="2.0" fill="#2e2e2e"/>
<circle cx="1185.6" cy="116.5" r="3.2" fill="#f0f0f0"/><circle cx="1185.6" cy="115.6" r="3" fill="#cbcbcb"/><circle cx="1185.6" cy="115.9" r="2.0" fill="#2e2e2e"/>
<circle cx="1185.6" cy="129.4" r="3.2" fill="#f0f0f0"/><circle cx="1185.6" cy="128.5" r="3" fill="#cbcbcb"/><circle cx="1185.6" cy="128.8" r="2.0" fill="#2e2e2e"/>
<circle cx="1185.6" cy="349.2" r="3.2" fill="#f0f0f0"/><circle cx="1185.6" cy="348.3" r="3" fill="#cbcbcb"/><circle cx="1185.6" cy="348.6" r="2.0" fill="#2e2e2e"/>
<circle cx="1185.6" cy="362.1" r="3.2" fill="#f0f0f0"/><circle cx="1185.6" cy="361.2" r="3" fill="#cbcbcb"/><circle cx="1185.6" cy="361.5" r="2.0" fill="#2e2e2e"/>
<circle cx="1185.6" cy="168.6" r="3.2" fill="#f0f0f0"/><circle cx="1185.6" cy="167.7" r="3" fill="#cbcbcb"/><circle cx="1185.6" cy="168.0" r="2.0" fill="#2e2e2e"/>
<circle cx="1185.6" cy="258.7" r="3.2" fill="#f0f0f0"/><circle cx="1185.6" cy="257.8" r="3" fill="#cbcbcb"/><circle cx="1185.6" cy="258.1" r="2.0" fill="#2e2e2e"/>
<circle cx="1185.6" cy="181.5" r="3.2" fill="#f0f0f0"/><circle cx="1185.6" cy="180.6" r="3" fill="#cbcbcb"/><circle cx="1185.6" cy="180.9" r="2.0" fill="#2e2e2e"/>
<circle cx="1185.6" cy="271.6" r="3.2" fill="#f0f0f0"/><circle cx="1185.6" cy="270.7" r="3" fill="#cbcbcb"/><circle cx="1185.6" cy="271.0" r="2.0" fill="#2e2e2e"/>
<circle cx="1185.6" cy="194.5" r="3.2" fill="#f0f0f0"/><circle cx="1185.6" cy="193.6" r="3" fill="#cbcbcb"/><circle cx="1185.6" cy="193.9" r="2.0" fill="#2e2e2e"/>
<circle cx="1185.6" cy="284.6" r="3.2" fill="#f0f0f0"/><circle cx="1185.6" cy="283.7" r="3" fill="#cbcbcb"/><circle cx="1185.6" cy="284.0" r="2.0" fill="#2e2e2e"/>
<circle cx="1185.6" cy="207.4" r="3.2" fill="#f0f0f0"/><circle cx="1185.6" cy="206.5" r="3" fill="#cbcbcb"/><circle cx="1185.6" cy="206.8" r="2.0" fill="#2e2e2e"/>
<circle cx="1185.6" cy="297.5" r="3.2" fill="#f0f0f0"/><circle cx="1185.6" cy="296.6" r="3" fill="#cbcbcb"/><circle cx="1185.6" cy="296.9" r="2.0" fill="#2e2e2e"/>
<circle cx="1185.6" cy="220.3" r="3.2" fill="#f0f0f0"/><circle cx="1185.6" cy="219.4" r="3" fill="#cbcbcb"/><circle cx="1185.6" cy="219.7" r="2.0" fill="#2e2e2e"/>
<circle cx="1185.6" cy="310.4" r="3.2" fill="#f0f0f0"/><circle cx="1185.6" cy="309.5" r="3" fill="#cbcbcb"/><circle cx="1185.6" cy="309.8" r="2.0" fill="#2e2e2e"/>
<circle cx="1198.5" cy="116.5" r="3.2" fill="#f0f0f0"/><circle cx="1198.5" cy="115.6" r="3" fill="#cbcbcb"/><circle cx="1198.5" cy="115.9" r="2.0" fill="#2e2e2e"/>
<circle cx="1198.5" cy="129.4" r="3.2" fill="#f0f0f0"/><circle cx="1198.5" cy="128.5" r="3" fill="#cbcbcb"/><circle cx="1198.5" cy="128.8" r="2.0" fill="#2e2e2e"/>
<circle cx="1198.5" cy="349.2" r="3.2" fill="#f0f0f0"/><circle cx="1198.5" cy="348.3" r="3" fill="#cbcbcb"/><circle cx="1198.5" cy="348.6" r="2.0" fill="#2e2e2e"/>
<circle cx="1198.5" cy="362.1" r="3.2" fill="#f0f0f0"/><circle cx="1198.5" cy="361.2" r="3" fill="#cbcbcb"/><circle cx="1198.5" cy="361.5" r="2.0" fill="#2e2e2e"/>
<circle cx="1198.5" cy="168.6" r="3.2" fill="#f0f0f0"/><circle cx="1198.5" cy="167.7" r="3" fill="#cbcbcb"/><circle cx="1198.5" cy="168.0" r="2.0" fill="#2e2e2e"/>
<circle cx="1198.5" cy="258.7" r="3.2" fill="#f0f0f0"/><circle cx="1198.5" cy="257.8" r="3" fill="#cbcbcb"/><circle cx="1198.5" cy="258.1" r="2.0" fill="#2e2e2e"/>
<circle cx="1198.5" cy="181.5" r="3.2" fill="#f0f0f0"/><circle cx="1198.5" cy="180.6" r="3" fill="#cbcbcb"/><circle cx="1198.5" cy="180.9" r="2.0" fill="#2e2e2e"/>
<circle cx="1198.5" cy="271.6" r="3.2" fill="#f0f0f0"/><circle cx="1198.5" cy="270.7" r="3" fill="#cbcbcb"/><circle cx="1198.5" cy="271.0" r="2.0" fill="#2e2e2e"/>
<circle cx="1198.5" cy="194.5" r="3.2" fill="#f0f0f0"/><circle cx="1198.5" cy="193.6" r="3" fill="#cbcbcb"/><circle cx="1198.5" cy="193.9" r="2.0" fill="#2e2e2e"/>
<circle cx="1198.5" cy="284.6" r="3.2" fill="#f0f0f0"/><circle cx="1198.5" cy="283.7" r="3" fill="#cbcbcb"/><circle cx="1198.5" cy="284.0" r="2.0" fill="#2e2e2e"/>
<circle cx="1198.5" cy="207.4" r="3.2" fill="#f0f0f0"/><circle cx="1198.5" cy="206.5" r="3" fill="#cbcbcb"/><circle cx="1198.5" cy="206.8" r="2.0" fill="#2e2e2e"/>
<circle cx="1198.5" cy="297.5" r="3.2" fill="#f0f0f0"/><circle cx="1198.5" cy="296.6" r="3" fill="#cbcbcb"/><circle cx="1198.5" cy="296.9" r="2.0" fill="#2e2e2e"/>
<circle cx="1198.5" cy="220.3" r="3.2" fill="#f0f0f0"/><circle cx="1198.5" cy="219.4" r="3" fill="#cbcbcb"/><circle cx="1198.5" cy="219.7" r="2.0" fill="#2e2e2e"/>
<circle cx="1198.5" cy="310.4" r="3.2" fill="#f0f0f0"/><circle cx="1198.5" cy="309.5" r="3" fill="#cbcbcb"/><circle cx="1198.5" cy="309.8" r="2.0" fill="#2e2e2e"/>
<circle cx="1211.5" cy="116.5" r="3.2" fill="#f0f0f0"/><circle cx="1211.5" cy="115.6" r="3" fill="#cbcbcb"/><circle cx="1211.5" cy="115.9" r="2.0" fill="#2e2e2e"/>
<circle cx="1211.5" cy="129.4" r="3.2" fill="#f0f0f0"/><circle cx="1211.5" cy="128.5" r="3" fill="#cbcbcb"/><circle cx="1211.5" cy="128.8" r="2.0" fill="#2e2e2e"/>
<circle cx="1211.5" cy="349.2" r="3.2" fill="#f0f0f0"/><circle cx="1211.5" cy="348.3" r="3" fill="#cbcbcb"/><circle cx="1211.5" cy="348.6" r="2.0" fill="#2e2e2e"/>
<circle cx="1211.5" cy="362.1" r="3.2" fill="#f0f0f0"/><circle cx="1211.5" cy="361.2" r="3" fill="#cbcbcb"/><circle cx="1211.5" cy="361.5" r="2.0" fill="#2e2e2e"/>
<circle cx="1211.5" cy="168.6" r="3.2" fill="#f0f0f0"/><circle cx="1211.5" cy="167.7" r="3" fill="#cbcbcb"/><circle cx="1211.5" cy="168.0" r="2.0" fill="#2e2e2e"/>
<circle cx="1211.5" cy="258.7" r="3.2" fill="#f0f0f0"/><circle cx="1211.5" cy="257.8" r="3" fill="#cbcbcb"/><circle cx="1211.5" cy="258.1" r="2.0" fill="#2e2e2e"/>
<circle cx="1211.5" cy="181.5" r="3.2" fill="#f0f0f0"/><circle cx="1211.5" cy="180.6" r="3" fill="#cbcbcb"/><circle cx="1211.5" cy="180.9" r="2.0" fill="#2e2e2e"/>
<circle cx="1211.5" cy="271.6" r="3.2" fill="#f0f0f0"/><circle cx="1211.5" cy="270.7" r="3" fill="#cbcbcb"/><circle cx="1211.5" cy="271.0" r="2.0" fill="#2e2e2e"/>
<circle cx="1211.5" cy="194.5" r="3.2" fill="#f0f0f0"/><circle cx="1211.5" cy="193.6" r="3" fill="#cbcbcb"/><circle cx="1211.5" cy="193.9" r="2.0" fill="#2e2e2e"/>
<circle cx="1211.5" cy="284.6" r="3.2" fill="#f0f0f0"/><circle cx="1211.5" cy="283.7" r="3" fill="#cbcbcb"/><circle cx="1211.5" cy="284.0" r="2.0" fill="#2e2e2e"/>
<circle cx="1211.5" cy="207.4" r="3.2" fill="#f0f0f0"/><circle cx="1211.5" cy="206.5" r="3" fill="#cbcbcb"/><circle cx="1211.5" cy="206.8" r="2.0" fill="#2e2e2e"/>
<circle cx="1211.5" cy="297.5" r="3.2" fill="#f0f0f0"/><circle cx="1211.5" cy="296.6" r="3" fill="#cbcbcb"/><circle cx="1211.5" cy="296.9" r="2.0" fill="#2e2e2e"/>
<circle cx="1211.5" cy="220.3" r="3.2" fill="#f0f0f0"/><circle cx="1211.5" cy="219.4" r="3" fill="#cbcbcb"/><circle cx="1211.5" cy="219.7" r="2.0" fill="#2e2e2e"/>
<circle cx="1211.5" cy="310.4" r="3.2" fill="#f0f0f0"/><circle cx="1211.5" cy="309.5" r="3" fill="#cbcbcb"/><circle cx="1211.5" cy="309.8" r="2.0" fill="#2e2e2e"/>
<circle cx="1224.4" cy="116.5" r="3.2" fill="#f0f0f0"/><circle cx="1224.4" cy="115.6" r="3" fill="#cbcbcb"/><circle cx="1224.4" cy="115.9" r="2.0" fill="#2e2e2e"/>
<circle cx="1224.4" cy="129.4" r="3.2" fill="#f0f0f0"/><circle cx="1224.4" cy="128.5" r="3" fill="#cbcbcb"/><circle cx="1224.4" cy="128.8" r="2.0" fill="#2e2e2e"/>
<circle cx="1224.4" cy="349.2" r="3.2" fill="#f0f0f0"/><circle cx="1224.4" cy="348.3" r="3" fill="#cbcbcb"/><circle cx="1224.4" cy="348.6" r="2.0" fill="#2e2e2e"/>
<circle cx="1224.4" cy="362.1" r="3.2" fill="#f0f0f0"/><circle cx="1224.4" cy="361.2" r="3" fill="#cbcbcb"/><circle cx="1224.4" cy="361.5" r="2.0" fill="#2e2e2e"/>
<circle cx="1224.4" cy="168.6" r="3.2" fill="#f0f0f0"/><circle cx="1224.4" cy="167.7" r="3" fill="#cbcbcb"/><circle cx="1224.4" cy="168.0" r="2.0" fill="#2e2e2e"/>
<circle cx="1224.4" cy="258.7" r="3.2" fill="#f0f0f0"/><circle cx="1224.4" cy="257.8" r="3" fill="#cbcbcb"/><circle cx="1224.4" cy="258.1" r="2.0" fill="#2e2e2e"/>
<circle cx="1224.4" cy="181.5" r="3.2" fill="#f0f0f0"/><circle cx="1224.4" cy="180.6" r="3" fill="#cbcbcb"/><circle cx="1224.4" cy="180.9" r="2.0" fill="#2e2e2e"/>
<circle cx="1224.4" cy="271.6" r="3.2" fill="#f0f0f0"/><circle cx="1224.4" cy="270.7" r="3" fill="#cbcbcb"/><circle cx="1224.4" cy="271.0" r="2.0" fill="#2e2e2e"/>
<circle cx="1224.4" cy="194.5" r="3.2" fill="#f0f0f0"/><circle cx="1224.4" cy="193.6" r="3" fill="#cbcbcb"/><circle cx="1224.4" cy="193.9" r="2.0" fill="#2e2e2e"/>
<circle cx="1224.4" cy="284.6" r="3.2" fill="#f0f0f0"/><circle cx="1224.4" cy="283.7" r="3" fill="#cbcbcb"/><circle cx="1224.4" cy="284.0" r="2.0" fill="#2e2e2e"/>
<circle cx="1224.4" cy="207.4" r="3.2" fill="#f0f0f0"/><circle cx="1224.4" cy="206.5" r="3" fill="#cbcbcb"/><circle cx="1224.4" cy="206.8" r="2.0" fill="#2e2e2e"/>
<circle cx="1224.4" cy="297.5" r="3.2" fill="#f0f0f0"/><circle cx="1224.4" cy="296.6" r="3" fill="#cbcbcb"/><circle cx="1224.4" cy="296.9" r="2.0" fill="#2e2e2e"/>
<circle cx="1224.4" cy="220.3" r="3.2" fill="#f0f0f0"/><circle cx="1224.4" cy="219.4" r="3" fill="#cbcbcb"/><circle cx="1224.4" cy="219.7" r="2.0" fill="#2e2e2e"/>
<circle cx="1224.4" cy="310.4" r="3.2" fill="#f0f0f0"/><circle cx="1224.4" cy="309.5" r="3" fill="#cbcbcb"/><circle cx="1224.4" cy="309.8" r="2.0" fill="#2e2e2e"/>
<circle cx="1237.3" cy="116.5" r="3.2" fill="#f0f0f0"/><circle cx="1237.3" cy="115.6" r="3" fill="#cbcbcb"/><circle cx="1237.3" cy="115.9" r="2.0" fill="#2e2e2e"/>
<circle cx="1237.3" cy="129.4" r="3.2" fill="#f0f0f0"/><circle cx="1237.3" cy="128.5" r="3" fill="#cbcbcb"/><circle cx="1237.3" cy="128.8" r="2.0" fill="#2e2e2e"/>
<circle cx="1237.3" cy="349.2" r="3.2" fill="#f0f0f0"/><circle cx="1237.3" cy="348.3" r="3" fill="#cbcbcb"/><circle cx="1237.3" cy="348.6" r="2.0" fill="#2e2e2e"/>
<circle cx="1237.3" cy="362.1" r="3.2" fill="#f0f0f0"/><circle cx="1237.3" cy="361.2" r="3" fill="#cbcbcb"/><circle cx="1237.3" cy="361.5" r="2.0" fill="#2e2e2e"/>
<circle cx="1237.3" cy="168.6" r="3.2" fill="#f0f0f0"/><circle cx="1237.3" cy="167.7" r="3" fill="#cbcbcb"/><circle cx="1237.3" cy="168.0" r="2.0" fill="#2e2e2e"/>
<circle cx="1237.3" cy="258.7" r="3.2" fill="#f0f0f0"/><circle cx="1237.3" cy="257.8" r="3" fill="#cbcbcb"/><circle cx="1237.3" cy="258.1" r="2.0" fill="#2e2e2e"/>
<circle cx="1237.3" cy="181.5" r="3.2" fill="#f0f0f0"/><circle cx="1237.3" cy="180.6" r="3" fill="#cbcbcb"/><circle cx="1237.3" cy="180.9" r="2.0" fill="#2e2e2e"/>
<circle cx="1237.3" cy="271.6" r="3.2" fill="#f0f0f0"/><circle cx="1237.3" cy="270.7" r="3" fill="#cbcbcb"/><circle cx="1237.3" cy="271.0" r="2.0" fill="#2e2e2e"/>
<circle cx="1237.3" cy="194.5" r="3.2" fill="#f0f0f0"/><circle cx="1237.3" cy="193.6" r="3" fill="#cbcbcb"/><circle cx="1237.3" cy="193.9" r="2.0" fill="#2e2e2e"/>
<circle cx="1237.3" cy="284.6" r="3.2" fill="#f0f0f0"/><circle cx="1237.3" cy="283.7" r="3" fill="#cbcbcb"/><circle cx="1237.3" cy="284.0" r="2.0" fill="#2e2e2e"/>
<circle cx="1237.3" cy="207.4" r="3.2" fill="#f0f0f0"/><circle cx="1237.3" cy="206.5" r="3" fill="#cbcbcb"/><circle cx="1237.3" cy="206.8" r="2.0" fill="#2e2e2e"/>
<circle cx="1237.3" cy="297.5" r="3.2" fill="#f0f0f0"/><circle cx="1237.3" cy="296.6" r="3" fill="#cbcbcb"/><circle cx="1237.3" cy="296.9" r="2.0" fill="#2e2e2e"/>
<circle cx="1237.3" cy="220.3" r="3.2" fill="#f0f0f0"/><circle cx="1237.3" cy="219.4" r="3" fill="#cbcbcb"/><circle cx="1237.3" cy="219.7" r="2.0" fill="#2e2e2e"/>
<circle cx="1237.3" cy="310.4" r="3.2" fill="#f0f0f0"/><circle cx="1237.3" cy="309.5" r="3" fill="#cbcbcb"/><circle cx="1237.3" cy="309.8" r="2.0" fill="#2e2e2e"/>
<circle cx="1250.2" cy="116.5" r="3.2" fill="#f0f0f0"/><circle cx="1250.2" cy="115.6" r="3" fill="#cbcbcb"/><circle cx="1250.2" cy="115.9" r="2.0" fill="#2e2e2e"/>
<circle cx="1250.2" cy="129.4" r="3.2" fill="#f0f0f0"/><circle cx="1250.2" cy="128.5" r="3" fill="#cbcbcb"/><circle cx="1250.2" cy="128.8" r="2.0" fill="#2e2e2e"/>
<circle cx="1250.2" cy="349.2" r="3.2" fill="#f0f0f0"/><circle cx="1250.2" cy="348.3" r="3" fill="#cbcbcb"/><circle cx="1250.2" cy="348.6" r="2.0" fill="#2e2e2e"/>
<circle cx="1250.2" cy="362.1" r="3.2" fill="#f0f0f0"/><circle cx="1250.2" cy="361.2" r="3" fill="#cbcbcb"/><circle cx="1250.2" cy="361.5" r="2.0" fill="#2e2e2e"/>
<circle cx="1250.2" cy="168.6" r="3.2" fill="#f0f0f0"/><circle cx="1250.2" cy="167.7" r="3" fill="#cbcbcb"/><circle cx="1250.2" cy="168.0" r="2.0" fill="#2e2e2e"/>
<circle cx="1250.2" cy="258.7" r="3.2" fill="#f0f0f0"/><circle cx="1250.2" cy="257.8" r="3" fill="#cbcbcb"/><circle cx="1250.2" cy="258.1" r="2.0" fill="#2e2e2e"/>
<circle cx="1250.2" cy="181.5" r="3.2" fill="#f0f0f0"/><circle cx="1250.2" cy="180.6" r="3" fill="#cbcbcb"/><circle cx="1250.2" cy="180.9" r="2.0" fill="#2e2e2e"/>
<circle cx="1250.2" cy="271.6" r="3.2" fill="#f0f0f0"/><circle cx="1250.2" cy="270.7" r="3" fill="#cbcbcb"/><circle cx="1250.2" cy="271.0" r="2.0" fill="#2e2e2e"/>
<circle cx="1250.2" cy="194.5" r="3.2" fill="#f0f0f0"/><circle cx="1250.2" cy="193.6" r="3" fill="#cbcbcb"/><circle cx="1250.2" cy="193.9" r="2.0" fill="#2e2e2e"/>
<circle cx="1250.2" cy="284.6" r="3.2" fill="#f0f0f0"/><circle cx="1250.2" cy="283.7" r="3" fill="#cbcbcb"/><circle cx="1250.2" cy="284.0" r="2.0" fill="#2e2e2e"/>
<circle cx="1250.2" cy="207.4" r="3.2" fill="#f0f0f0"/><circle cx="1250.2" cy="206.5" r="3" fill="#cbcbcb"/><circle cx="1250.2" cy="206.8" r="2.0" fill="#2e2e2e"/>
<circle cx="1250.2" cy="297.5" r="3.2" fill="#f0f0f0"/><circle cx="1250.2" cy="296.6" r="3" fill="#cbcbcb"/><circle cx="1250.2" cy="296.9" r="2.0" fill="#2e2e2e"/>
<circle cx="1250.2" cy="220.3" r="3.2" fill="#f0f0f0"/><circle cx="1250.2" cy="219.4" r="3" fill="#cbcbcb"/><circle cx="1250.2" cy="219.7" r="2.0" fill="#2e2e2e"/>
<circle cx="1250.2" cy="310.4" r="3.2" fill="#f0f0f0"/><circle cx="1250.2" cy="309.5" r="3" fill="#cbcbcb"/><circle cx="1250.2" cy="309.8" r="2.0" fill="#2e2e2e"/>
<circle cx="1263.2" cy="116.5" r="3.2" fill="#f0f0f0"/><circle cx="1263.2" cy="115.6" r="3" fill="#cbcbcb"/><circle cx="1263.2" cy="115.9" r="2.0" fill="#2e2e2e"/>
<circle cx="1263.2" cy="129.4" r="3.2" fill="#f0f0f0"/><circle cx="1263.2" cy="128.5" r="3" fill="#cbcbcb"/><circle cx="1263.2" cy="128.8" r="2.0" fill="#2e2e2e"/>
<circle cx="1263.2" cy="349.2" r="3.2" fill="#f0f0f0"/><circle cx="1263.2" cy="348.3" r="3" fill="#cbcbcb"/><circle cx="1263.2" cy="348.6" r="2.0" fill="#2e2e2e"/>
<circle cx="1263.2" cy="362.1" r="3.2" fill="#f0f0f0"/><circle cx="1263.2" cy="361.2" r="3" fill="#cbcbcb"/><circle cx="1263.2" cy="361.5" r="2.0" fill="#2e2e2e"/>
<circle cx="1263.2" cy="168.6" r="3.2" fill="#f0f0f0"/><circle cx="1263.2" cy="167.7" r="3" fill="#cbcbcb"/><circle cx="1263.2" cy="168.0" r="2.0" fill="#2e2e2e"/>
<circle cx="1263.2" cy="258.7" r="3.2" fill="#f0f0f0"/><circle cx="1263.2" cy="257.8" r="3" fill="#cbcbcb"/><circle cx="1263.2" cy="258.1" r="2.0" fill="#2e2e2e"/>
<circle cx="1263.2" cy="181.5" r="3.2" fill="#f0f0f0"/><circle cx="1263.2" cy="180.6" r="3" fill="#cbcbcb"/><circle cx="1263.2" cy="180.9" r="2.0" fill="#2e2e2e"/>
<circle cx="1263.2" cy="271.6" r="3.2" fill="#f0f0f0"/><circle cx="1263.2" cy="270.7" r="3" fill="#cbcbcb"/><circle cx="1263.2" cy="271.0" r="2.0" fill="#2e2e2e"/>
<circle cx="1263.2" cy="194.5" r="3.2" fill="#f0f0f0"/><circle cx="1263.2" cy="193.6" r="3" fill="#cbcbcb"/><circle cx="1263.2" cy="193.9" r="2.0" fill="#2e2e2e"/>
<circle cx="1263.2" cy="284.6" r="3.2" fill="#f0f0f0"/><circle cx="1263.2" cy="283.7" r="3" fill="#cbcbcb"/><circle cx="1263.2" cy="284.0" r="2.0" fill="#2e2e2e"/>
<circle cx="1263.2" cy="207.4" r="3.2" fill="#f0f0f0"/><circle cx="1263.2" cy="206.5" r="3" fill="#cbcbcb"/><circle cx="1263.2" cy="206.8" r="2.0" fill="#2e2e2e"/>
<circle cx="1263.2" cy="297.5" r="3.2" fill="#f0f0f0"/><circle cx="1263.2" cy="296.6" r="3" fill="#cbcbcb"/><circle cx="1263.2" cy="296.9" r="2.0" fill="#2e2e2e"/>
<circle cx="1263.2" cy="220.3" r="3.2" fill="#f0f0f0"/><circle cx="1263.2" cy="219.4" r="3" fill="#cbcbcb"/><circle cx="1263.2" cy="219.7" r="2.0" fill="#2e2e2e"/>
<circle cx="1263.2" cy="310.4" r="3.2" fill="#f0f0f0"/><circle cx="1263.2" cy="309.5" r="3" fill="#cbcbcb"/><circle cx="1263.2" cy="309.8" r="2.0" fill="#2e2e2e"/>
<text transform="translate(888.2,155.5) rotate(-90)" font-family="Liberation Sans" font-size="8" font-weight="normal" fill="#555" text-anchor="middle" dominant-baseline="central">1</text>
<text transform="translate(888.2,321) rotate(-90)" font-family="Liberation Sans" font-size="8" font-weight="normal" fill="#555" text-anchor="middle" dominant-baseline="central">1</text>
<text transform="translate(901.13,155.5) rotate(-90)" font-family="Liberation Sans" font-size="8" font-weight="normal" fill="#555" text-anchor="middle" dominant-baseline="central">2</text>
<text transform="translate(901.13,321) rotate(-90)" font-family="Liberation Sans" font-size="8" font-weight="normal" fill="#555" text-anchor="middle" dominant-baseline="central">2</text>
<text transform="translate(914.0600000000001,155.5) rotate(-90)" font-family="Liberation Sans" font-size="8" font-weight="normal" fill="#555" text-anchor="middle" dominant-baseline="central">3</text>
<text transform="translate(914.0600000000001,321) rotate(-90)" font-family="Liberation Sans" font-size="8" font-weight="normal" fill="#555" text-anchor="middle" dominant-baseline="central">3</text>
<text transform="translate(926.99,155.5) rotate(-90)" font-family="Liberation Sans" font-size="8" font-weight="normal" fill="#555" text-anchor="middle" dominant-baseline="central">4</text>
<text transform="translate(926.99,321) rotate(-90)" font-family="Liberation Sans" font-size="8" font-weight="normal" fill="#555" text-anchor="middle" dominant-baseline="central">4</text>
<text transform="translate(939.9200000000001,155.5) rotate(-90)" font-family="Liberation Sans" font-size="8" font-weight="normal" fill="#555" text-anchor="middle" dominant-baseline="central">5</text>
<text transform="translate(939.9200000000001,321) rotate(-90)" font-family="Liberation Sans" font-size="8" font-weight="normal" fill="#555" text-anchor="middle" dominant-baseline="central">5</text>
<text transform="translate(952.85,155.5) rotate(-90)" font-family="Liberation Sans" font-size="8" font-weight="normal" fill="#555" text-anchor="middle" dominant-baseline="central">6</text>
<text transform="translate(952.85,321) rotate(-90)" font-family="Liberation Sans" font-size="8" font-weight="normal" fill="#555" text-anchor="middle" dominant-baseline="central">6</text>
<text transform="translate(965.7800000000001,155.5) rotate(-90)" font-family="Liberation Sans" font-size="8" font-weight="normal" fill="#555" text-anchor="middle" dominant-baseline="central">7</text>
<text transform="translate(965.7800000000001,321) rotate(-90)" font-family="Liberation Sans" font-size="8" font-weight="normal" fill="#555" text-anchor="middle" dominant-baseline="central">7</text>
<text transform="translate(978.71,155.5) rotate(-90)" font-family="Liberation Sans" font-size="8" font-weight="normal" fill="#555" text-anchor="middle" dominant-baseline="central">8</text>
<text transform="translate(978.71,321) rotate(-90)" font-family="Liberation Sans" font-size="8" font-weight="normal" fill="#555" text-anchor="middle" dominant-baseline="central">8</text>
<text transform="translate(991.6400000000001,155.5) rotate(-90)" font-family="Liberation Sans" font-size="8" font-weight="normal" fill="#555" text-anchor="middle" dominant-baseline="central">9</text>
<text transform="translate(991.6400000000001,321) rotate(-90)" font-family="Liberation Sans" font-size="8" font-weight="normal" fill="#555" text-anchor="middle" dominant-baseline="central">9</text>
<text transform="translate(1004.57,155.5) rotate(-90)" font-family="Liberation Sans" font-size="8" font-weight="normal" fill="#555" text-anchor="middle" dominant-baseline="central">10</text>
<text transform="translate(1004.57,321) rotate(-90)" font-family="Liberation Sans" font-size="8" font-weight="normal" fill="#555" text-anchor="middle" dominant-baseline="central">10</text>
<text transform="translate(1017.5,155.5) rotate(-90)" font-family="Liberation Sans" font-size="8" font-weight="normal" fill="#555" text-anchor="middle" dominant-baseline="central">11</text>
<text transform="translate(1017.5,321) rotate(-90)" font-family="Liberation Sans" font-size="8" font-weight="normal" fill="#555" text-anchor="middle" dominant-baseline="central">11</text>
<text transform="translate(1030.43,155.5) rotate(-90)" font-family="Liberation Sans" font-size="8" font-weight="normal" fill="#555" text-anchor="middle" dominant-baseline="central">12</text>
<text transform="translate(1030.43,321) rotate(-90)" font-family="Liberation Sans" font-size="8" font-weight="normal" fill="#555" text-anchor="middle" dominant-baseline="central">12</text>
<text transform="translate(1043.3600000000001,155.5) rotate(-90)" font-family="Liberation Sans" font-size="8" font-weight="normal" fill="#555" text-anchor="middle" dominant-baseline="central">13</text>
<text transform="translate(1043.3600000000001,321) rotate(-90)" font-family="Liberation Sans" font-size="8" font-weight="normal" fill="#555" text-anchor="middle" dominant-baseline="central">13</text>
<text transform="translate(1056.29,155.5) rotate(-90)" font-family="Liberation Sans" font-size="8" font-weight="normal" fill="#555" text-anchor="middle" dominant-baseline="central">14</text>
<text transform="translate(1056.29,321) rotate(-90)" font-family="Liberation Sans" font-size="8" font-weight="normal" fill="#555" text-anchor="middle" dominant-baseline="central">14</text>
<text transform="translate(1069.22,155.5) rotate(-90)" font-family="Liberation Sans" font-size="8" font-weight="normal" fill="#555" text-anchor="middle" dominant-baseline="central">15</text>
<text transform="translate(1069.22,321) rotate(-90)" font-family="Liberation Sans" font-size="8" font-weight="normal" fill="#555" text-anchor="middle" dominant-baseline="central">15</text>
<text transform="translate(1082.15,155.5) rotate(-90)" font-family="Liberation Sans" font-size="8" font-weight="normal" fill="#555" text-anchor="middle" dominant-baseline="central">16</text>
<text transform="translate(1082.15,321) rotate(-90)" font-family="Liberation Sans" font-size="8" font-weight="normal" fill="#555" text-anchor="middle" dominant-baseline="central">16</text>
<text transform="translate(1095.08,155.5) rotate(-90)" font-family="Liberation Sans" font-size="8" font-weight="normal" fill="#555" text-anchor="middle" dominant-baseline="central">17</text>
<text transform="translate(1095.08,321) rotate(-90)" font-family="Liberation Sans" font-size="8" font-weight="normal" fill="#555" text-anchor="middle" dominant-baseline="central">17</text>
<text transform="translate(1108.01,155.5) rotate(-90)" font-family="Liberation Sans" font-size="8" font-weight="normal" fill="#555" text-anchor="middle" dominant-baseline="central">18</text>
<text transform="translate(1108.01,321) rotate(-90)" font-family="Liberation Sans" font-size="8" font-weight="normal" fill="#555" text-anchor="middle" dominant-baseline="central">18</text>
<text transform="translate(1120.94,155.5) rotate(-90)" font-family="Liberation Sans" font-size="8" font-weight="normal" fill="#555" text-anchor="middle" dominant-baseline="central">19</text>
<text transform="translate(1120.94,321) rotate(-90)" font-family="Liberation Sans" font-size="8" font-weight="normal" fill="#555" text-anchor="middle" dominant-baseline="central">19</text>
<text transform="translate(1133.8700000000001,155.5) rotate(-90)" font-family="Liberation Sans" font-size="8" font-weight="normal" fill="#555" text-anchor="middle" dominant-baseline="central">20</text>
<text transform="translate(1133.8700000000001,321) rotate(-90)" font-family="Liberation Sans" font-size="8" font-weight="normal" fill="#555" text-anchor="middle" dominant-baseline="central">20</text>
<text transform="translate(1146.8000000000002,155.5) rotate(-90)" font-family="Liberation Sans" font-size="8" font-weight="normal" fill="#555" text-anchor="middle" dominant-baseline="central">21</text>
<text transform="translate(1146.8000000000002,321) rotate(-90)" font-family="Liberation Sans" font-size="8" font-weight="normal" fill="#555" text-anchor="middle" dominant-baseline="central">21</text>
<text transform="translate(1159.73,155.5) rotate(-90)" font-family="Liberation Sans" font-size="8" font-weight="normal" fill="#555" text-anchor="middle" dominant-baseline="central">22</text>
<text transform="translate(1159.73,321) rotate(-90)" font-family="Liberation Sans" font-size="8" font-weight="normal" fill="#555" text-anchor="middle" dominant-baseline="central">22</text>
<text transform="translate(1172.66,155.5) rotate(-90)" font-family="Liberation Sans" font-size="8" font-weight="normal" fill="#555" text-anchor="middle" dominant-baseline="central">23</text>
<text transform="translate(1172.66,321) rotate(-90)" font-family="Liberation Sans" font-size="8" font-weight="normal" fill="#555" text-anchor="middle" dominant-baseline="central">23</text>
<text transform="translate(1185.5900000000001,155.5) rotate(-90)" font-family="Liberation Sans" font-size="8" font-weight="normal" fill="#555" text-anchor="middle" dominant-baseline="central">24</text>
<text transform="translate(1185.5900000000001,321) rotate(-90)" font-family="Liberation Sans" font-size="8" font-weight="normal" fill="#555" text-anchor="middle" dominant-baseline="central">24</text>
<text transform="translate(1198.52,155.5) rotate(-90)" font-family="Liberation Sans" font-size="8" font-weight="normal" fill="#555" text-anchor="middle" dominant-baseline="central">25</text>
<text transform="translate(1198.52,321) rotate(-90)" font-family="Liberation Sans" font-size="8" font-weight="normal" fill="#555" text-anchor="middle" dominant-baseline="central">25</text>
<text transform="translate(1211.45,155.5) rotate(-90)" font-family="Liberation Sans" font-size="8" font-weight="normal" fill="#555" text-anchor="middle" dominant-baseline="central">26</text>
<text transform="translate(1211.45,321) rotate(-90)" font-family="Liberation Sans" font-size="8" font-weight="normal" fill="#555" text-anchor="middle" dominant-baseline="central">26</text>
<text transform="translate(1224.38,155.5) rotate(-90)" font-family="Liberation Sans" font-size="8" font-weight="normal" fill="#555" text-anchor="middle" dominant-baseline="central">27</text>
<text transform="translate(1224.38,321) rotate(-90)" font-family="Liberation Sans" font-size="8" font-weight="normal" fill="#555" text-anchor="middle" dominant-baseline="central">27</text>
<text transform="translate(1237.31,155.5) rotate(-90)" font-family="Liberation Sans" font-size="8" font-weight="normal" fill="#555" text-anchor="middle" dominant-baseline="central">28</text>
<text transform="translate(1237.31,321) rotate(-90)" font-family="Liberation Sans" font-size="8" font-weight="normal" fill="#555" text-anchor="middle" dominant-baseline="central">28</text>
<text transform="translate(1250.24,155.5) rotate(-90)" font-family="Liberation Sans" font-size="8" font-weight="normal" fill="#555" text-anchor="middle" dominant-baseline="central">29</text>
<text transform="translate(1250.24,321) rotate(-90)" font-family="Liberation Sans" font-size="8" font-weight="normal" fill="#555" text-anchor="middle" dominant-baseline="central">29</text>
<text transform="translate(1263.17,155.5) rotate(-90)" font-family="Liberation Sans" font-size="8" font-weight="normal" fill="#555" text-anchor="middle" dominant-baseline="central">30</text>
<text transform="translate(1263.17,321) rotate(-90)" font-family="Liberation Sans" font-size="8" font-weight="normal" fill="#555" text-anchor="middle" dominant-baseline="central">30</text>
<text transform="translate(875,168.0) rotate(-90)" font-family="Liberation Sans" font-size="9" font-weight="normal" fill="#555" text-anchor="middle" dominant-baseline="central">j</text>
<text transform="translate(875,180.93) rotate(-90)" font-family="Liberation Sans" font-size="9" font-weight="normal" fill="#555" text-anchor="middle" dominant-baseline="central">i</text>
<text transform="translate(875,193.86) rotate(-90)" font-family="Liberation Sans" font-size="9" font-weight="normal" fill="#555" text-anchor="middle" dominant-baseline="central">h</text>
<text transform="translate(875,206.79) rotate(-90)" font-family="Liberation Sans" font-size="9" font-weight="normal" fill="#555" text-anchor="middle" dominant-baseline="central">g</text>
<text transform="translate(875,219.72) rotate(-90)" font-family="Liberation Sans" font-size="9" font-weight="normal" fill="#555" text-anchor="middle" dominant-baseline="central">f</text>
<text transform="translate(875,258.1) rotate(-90)" font-family="Liberation Sans" font-size="9" font-weight="normal" fill="#555" text-anchor="middle" dominant-baseline="central">e</text>
<text transform="translate(875,271.03000000000003) rotate(-90)" font-family="Liberation Sans" font-size="9" font-weight="normal" fill="#555" text-anchor="middle" dominant-baseline="central">d</text>
<text transform="translate(875,283.96000000000004) rotate(-90)" font-family="Liberation Sans" font-size="9" font-weight="normal" fill="#555" text-anchor="middle" dominant-baseline="central">c</text>
<text transform="translate(875,296.89000000000004) rotate(-90)" font-family="Liberation Sans" font-size="9" font-weight="normal" fill="#555" text-anchor="middle" dominant-baseline="central">b</text>
<text transform="translate(875,309.82000000000005) rotate(-90)" font-family="Liberation Sans" font-size="9" font-weight="normal" fill="#555" text-anchor="middle" dominant-baseline="central">a</text>
</g>
<g id="lcd">
<rect x="904.8" y="160" width="406.7" height="183" rx="3" fill="#4fa66b"/>
<circle cx="916.3" cy="171.3" r="6.5" fill="#f1f1f1"/>
<circle cx="1299.9" cy="171.3" r="6.5" fill="#f1f1f1"/>
<circle cx="916.3" cy="331.7" r="6.5" fill="#f1f1f1"/>
<circle cx="1299.9" cy="331.7" r="6.5" fill="#f1f1f1"/>
<circle cx="914.2" cy="167.7" r="2" fill="#222"/>
<rect x="927.1" y="191" width="361.9" height="128" fill="#3e8a59"/>
<rect x="927.1" y="188" width="361.9" height="126.8" fill="#333"/>
<rect x="940" y="210.7" width="335.7" height="81.2" fill="#1d2a4b"/>
<text transform="translate(939.9200000000001,172.8) rotate(90)" font-family="Liberation Sans" font-size="6" font-weight="bold" fill="#eef3ee" text-anchor="start" dominant-baseline="central">GND</text>
<text transform="translate(952.85,172.8) rotate(90)" font-family="Liberation Sans" font-size="6" font-weight="bold" fill="#eef3ee" text-anchor="start" dominant-baseline="central">VCC</text>
<text transform="translate(965.7800000000001,172.8) rotate(90)" font-family="Liberation Sans" font-size="6" font-weight="bold" fill="#eef3ee" text-anchor="start" dominant-baseline="central">V0</text>
<text transform="translate(978.71,172.8) rotate(90)" font-family="Liberation Sans" font-size="6" font-weight="bold" fill="#eef3ee" text-anchor="start" dominant-baseline="central">RS</text>
<text transform="translate(991.6400000000001,172.8) rotate(90)" font-family="Liberation Sans" font-size="6" font-weight="bold" fill="#eef3ee" text-anchor="start" dominant-baseline="central">RW</text>
<text transform="translate(1004.57,172.8) rotate(90)" font-family="Liberation Sans" font-size="6" font-weight="bold" fill="#eef3ee" text-anchor="start" dominant-baseline="central">E</text>
<text transform="translate(1017.5,172.8) rotate(90)" font-family="Liberation Sans" font-size="6" font-weight="bold" fill="#eef3ee" text-anchor="start" dominant-baseline="central">DB0</text>
<text transform="translate(1030.43,172.8) rotate(90)" font-family="Liberation Sans" font-size="6" font-weight="bold" fill="#eef3ee" text-anchor="start" dominant-baseline="central">DB1</text>
<text transform="translate(1043.3600000000001,172.8) rotate(90)" font-family="Liberation Sans" font-size="6" font-weight="bold" fill="#eef3ee" text-anchor="start" dominant-baseline="central">DB2</text>
<text transform="translate(1056.29,172.8) rotate(90)" font-family="Liberation Sans" font-size="6" font-weight="bold" fill="#eef3ee" text-anchor="start" dominant-baseline="central">DB3</text>
<text transform="translate(1069.22,172.8) rotate(90)" font-family="Liberation Sans" font-size="6" font-weight="bold" fill="#eef3ee" text-anchor="start" dominant-baseline="central">DB4</text>
<text transform="translate(1082.15,172.8) rotate(90)" font-family="Liberation Sans" font-size="6" font-weight="bold" fill="#eef3ee" text-anchor="start" dominant-baseline="central">DB5</text>
<text transform="translate(1095.08,172.8) rotate(90)" font-family="Liberation Sans" font-size="6" font-weight="bold" fill="#eef3ee" text-anchor="start" dominant-baseline="central">DB6</text>
<text transform="translate(1108.01,172.8) rotate(90)" font-family="Liberation Sans" font-size="6" font-weight="bold" fill="#eef3ee" text-anchor="start" dominant-baseline="central">DB7</text>
<text transform="translate(1120.94,172.8) rotate(90)" font-family="Liberation Sans" font-size="6" font-weight="bold" fill="#eef3ee" text-anchor="start" dominant-baseline="central">LED</text>
<text transform="translate(1133.8700000000001,172.8) rotate(90)" font-family="Liberation Sans" font-size="6" font-weight="bold" fill="#eef3ee" text-anchor="start" dominant-baseline="central">LED</text>
</g>
<g id="res">
<rect x="1132.9" y="115.5" width="2" height="52" fill="#8f8f8f"/>
<clipPath id="rclip"><path d="M1131.4 122 Q1128.9 126 1128.0 130 L1128.0 134.5 Q1129.3 136.5 1129.3 138 L1129.3 148 Q1129.3 149.5 1128.0 151 L1128.0 155.5 Q1128.9 158 1131.4 159.2 L1136.4 159.2 Q1138.9 158 1139.8 155.5 L1139.8 151 Q1138.5 149.5 1138.5 148 L1138.5 138 Q1138.5 136.5 1139.8 134.5 L1139.8 130 Q1138.9 126 1136.4 122 Z"/></clipPath>
<path d="M1131.4 122 Q1128.9 126 1128.0 130 L1128.0 134.5 Q1129.3 136.5 1129.3 138 L1129.3 148 Q1129.3 149.5 1128.0 151 L1128.0 155.5 Q1128.9 158 1131.4 159.2 L1136.4 159.2 Q1138.9 158 1139.8 155.5 L1139.8 151 Q1138.5 149.5 1138.5 148 L1138.5 138 Q1138.5 136.5 1139.8 134.5 L1139.8 130 Q1138.9 126 1136.4 122 Z" fill="#e2c38b"/>
<g clip-path="url(#rclip)"><rect x="1126.9" y="128.7" width="14" height="1.6" fill="#bf9a58"/><rect x="1126.9" y="137.8" width="14" height="3.4" fill="#e8180f"/><rect x="1126.9" y="144.8" width="14" height="3.1" fill="#151515"/><rect x="1126.9" y="151" width="14" height="3.1" fill="#7a4a14"/></g>
</g>
<g id="sr04">
<rect x="1082.9" y="436.7" width="3" height="28" fill="#cfcfcf"/>
<rect x="1095.5" y="436.7" width="3" height="28" fill="#cfcfcf"/>
<rect x="1108.5" y="436.7" width="3" height="28" fill="#cfcfcf"/>
<rect x="1121.5" y="436.7" width="3" height="28" fill="#cfcfcf"/>
<rect x="987.3" y="464.2" width="232.4" height="102" rx="2" fill="#0d3c7e"/>
<circle cx="993.6" cy="470.3" r="4.2" fill="#fff"/>
<circle cx="1213.5" cy="470.3" r="4.2" fill="#fff"/>
<circle cx="993.6" cy="560.3" r="4.2" fill="#fff"/>
<circle cx="1213.5" cy="560.3" r="4.2" fill="#fff"/>
<circle cx="1037.0" cy="511.3" r="42.5" fill="#1b2a47"/>
<circle cx="1035.5" cy="516.3" r="42" fill="#d6d6d6"/>
<circle cx="1035.5" cy="516.3" r="32.2" fill="#666"/>
<circle cx="1035.5" cy="516.3" r="26.2" fill="#a6a834"/>
<circle cx="1035.5" cy="516.3" r="19.3" fill="#a5a5a5"/>
<circle cx="1173.7" cy="511.3" r="42.5" fill="#1b2a47"/>
<circle cx="1172.2" cy="516.3" r="42" fill="#d6d6d6"/>
<circle cx="1172.2" cy="516.3" r="32.2" fill="#666"/>
<circle cx="1172.2" cy="516.3" r="26.2" fill="#a6a834"/>
<circle cx="1172.2" cy="516.3" r="19.3" fill="#a5a5a5"/>
<rect x="1079.8999999999999" y="470.3" width="7.4" height="12.2" rx="3.7" fill="#b3b3b3"/>
<circle cx="1083.6" cy="476.4" r="1.5" fill="#e8e8e8"/>
<rect x="1092.8999999999999" y="470.3" width="7.4" height="12.2" rx="3.7" fill="#b3b3b3"/>
<circle cx="1096.6" cy="476.4" r="1.5" fill="#e8e8e8"/>
<rect x="1106.1" y="470.3" width="7.4" height="12.2" rx="3.7" fill="#b3b3b3"/>
<circle cx="1109.8" cy="476.4" r="1.5" fill="#e8e8e8"/>
<rect x="1119.3" y="470.3" width="7.4" height="12.2" rx="3.7" fill="#b3b3b3"/>
<circle cx="1123" cy="476.4" r="1.5" fill="#e8e8e8"/>
<text transform="translate(1083.6,485.5) rotate(90)" font-family="Liberation Mono" font-size="7.8" font-weight="bold" fill="#e8eef8" text-anchor="start" dominant-baseline="central">GND</text>
<text transform="translate(1096.6,485.5) rotate(90)" font-family="Liberation Mono" font-size="7.8" font-weight="bold" fill="#e8eef8" text-anchor="start" dominant-baseline="central">ECHO</text>
<text transform="translate(1109.8,485.5) rotate(90)" font-family="Liberation Mono" font-size="7.8" font-weight="bold" fill="#e8eef8" text-anchor="start" dominant-baseline="central">TRIG</text>
<text transform="translate(1123,485.5) rotate(90)" font-family="Liberation Mono" font-size="7.8" font-weight="bold" fill="#e8eef8" text-anchor="start" dominant-baseline="central">VCC</text>
<text transform="translate(1104.3,533.2) rotate(180)" font-family="Liberation Mono" font-weight="bold" font-size="13" fill="#fff" text-anchor="middle" dominant-baseline="central" textLength="54" lengthAdjust="spacingAndGlyphs">HC-SR04</text>
<rect x="1079.5" y="545.3" width="49.2" height="17.7" rx="8.8" fill="#d6d6d6"/>
<rect x="1081.5" y="547" width="45.2" height="14.3" rx="7.1" fill="#a6a6a6"/>
<text transform="translate(1009,473.5) rotate(180)" font-family="Liberation Sans" font-weight="normal" font-size="14" fill="#dfe6f0" text-anchor="middle" dominant-baseline="central">R</text>
<text transform="translate(1200.9,473.5) rotate(180)" font-family="Liberation Sans" font-weight="normal" font-size="14" fill="#dfe6f0" text-anchor="middle" dominant-baseline="central">T</text>
</g>
<path d="M939.9 115.9 L939.9 166.8" fill="none" stroke="#333333" stroke-width="3" stroke-linecap="round" stroke-linejoin="round"/>
<path d="M965.8 115.9 L965.8 166.8" fill="none" stroke="#333333" stroke-width="3" stroke-linecap="round" stroke-linejoin="round"/>
<path d="M991.6 115.9 L991.6 166.8" fill="none" stroke="#333333" stroke-width="3" stroke-linecap="round" stroke-linejoin="round"/>
<path d="M952.9 128.8 L952.9 166.8" fill="none" stroke="#e0211f" stroke-width="3" stroke-linecap="round" stroke-linejoin="round"/>
<path d="M1120.9 115.9 L1120.9 166.8" fill="none" stroke="#e0211f" stroke-width="3" stroke-linecap="round" stroke-linejoin="round"/>
<path d="M888.2 115.9 L888.2 348.6" fill="none" stroke="#333333" stroke-width="3" stroke-linecap="round" stroke-linejoin="round"/>
<path d="M901 128.8 L895.3 345 Q894.9 353.5 888.2 361.5" fill="none" stroke="#e0211f" stroke-width="3" stroke-linecap="round" stroke-linejoin="round"/>
<path d="M695.8 358.7 L695.8 377.4 Q695.8 387.4 705.8 387.4 L891.3 387.4 Q901.3 387.4 901.3 377.4 L901.3 348.6" fill="none" stroke="#333333" stroke-width="3" stroke-linecap="round" stroke-linejoin="round"/>
<path d="M683 357.7 L683 389.8 Q683 399.8 693 399.8 L905.3 399.8 Q915.3 399.8 915.3 389.8 L915.3 361.5" fill="none" stroke="#e0211f" stroke-width="3" stroke-linecap="round" stroke-linejoin="round"/>
<path d="M1082.2 348.6 L1084.4 436.7" fill="none" stroke="#333333" stroke-width="3" stroke-linecap="round" stroke-linejoin="round"/>
<path d="M1120.8 361.5 L1122.9 436.7" fill="none" stroke="#e0211f" stroke-width="3" stroke-linecap="round" stroke-linejoin="round"/>
<path d="M721.5 113.5 L721.5 42 Q721.5 30 733.5 30 L1096.0 30 Q1108.0 30 1108.0 42 L1108.0 166.8" fill="none" stroke="#3fb34a" stroke-width="3" stroke-linecap="round" stroke-linejoin="round"/>
<path d="M734.5 113.5 L734.5 54.2 Q734.5 42.2 746.5 42.2 L1083.1 42.2 Q1095.1 42.2 1095.1 54.2 L1095.1 166.8" fill="none" stroke="#3fb34a" stroke-width="3" stroke-linecap="round" stroke-linejoin="round"/>
<path d="M747.5 113.5 L747.5 66.5 Q747.5 54.5 759.5 54.5 L1070.2 54.5 Q1082.2 54.5 1082.2 66.5 L1082.2 166.8" fill="none" stroke="#3fb34a" stroke-width="3" stroke-linecap="round" stroke-linejoin="round"/>
<path d="M760.5 113.5 L760.5 78.7 Q760.5 66.7 772.5 66.7 L1057.2 66.7 Q1069.2 66.7 1069.2 78.7 L1069.2 166.8" fill="none" stroke="#3fb34a" stroke-width="3" stroke-linecap="round" stroke-linejoin="round"/>
<path d="M773.5 113.5 L773.5 91 Q773.5 79 785.5 79 L992.6 79 Q1004.6 79 1004.6 91 L1004.6 166.8" fill="none" stroke="#3fb34a" stroke-width="3" stroke-linecap="round" stroke-linejoin="round"/>
<path d="M786.5 113.5 L786.5 103.2 Q786.5 91.2 798.5 91.2 L966.7 91.2 Q978.7 91.2 978.7 103.2 L978.7 166.8" fill="none" stroke="#3fb34a" stroke-width="3" stroke-linecap="round" stroke-linejoin="round"/>
<path d="M662.5 114 L662.5 404 Q662.5 415 673.5 415 L1095 415.2 Q1097.1 415.2 1097.1 417.3 L1097.1 436.7" fill="none" stroke="#3fb34a" stroke-width="3" stroke-linecap="round" stroke-linejoin="round"/>
<path d="M675.5 114 L675.5 414.4 Q675.5 425.4 686.5 425.4 L1104.2 425.2 Q1110.2 425.2 1110.2 431.2 L1110.2 436.7" fill="none" stroke="#3fb34a" stroke-width="3" stroke-linecap="round" stroke-linejoin="round"/>
<circle cx="939.9" cy="166.8" r="3.9" fill="#e9dcab"/>
<circle cx="939.9" cy="166.8" r="2" fill="#333"/>
<circle cx="952.9" cy="166.8" r="3.9" fill="#e9dcab"/>
<circle cx="952.9" cy="166.8" r="2" fill="#e0211f"/>
<circle cx="965.8" cy="166.8" r="3.9" fill="#e9dcab"/>
<circle cx="965.8" cy="166.8" r="2" fill="#333"/>
<circle cx="978.7" cy="166.8" r="3.9" fill="#e9dcab"/>
<circle cx="978.7" cy="166.8" r="2" fill="#3fb34a"/>
<circle cx="991.6" cy="166.8" r="3.9" fill="#e9dcab"/>
<circle cx="991.6" cy="166.8" r="2" fill="#333"/>
<circle cx="1004.6" cy="166.8" r="3.9" fill="#e9dcab"/>
<circle cx="1004.6" cy="166.8" r="2" fill="#3fb34a"/>
<circle cx="1017.5" cy="166.8" r="3.9" fill="#e9dcab"/>
<circle cx="1017.5" cy="166.8" r="2" fill="#333"/>
<circle cx="1030.4" cy="166.8" r="3.9" fill="#e9dcab"/>
<circle cx="1030.4" cy="166.8" r="2" fill="#333"/>
<circle cx="1043.4" cy="166.8" r="3.9" fill="#e9dcab"/>
<circle cx="1043.4" cy="166.8" r="2" fill="#333"/>
<circle cx="1056.3" cy="166.8" r="3.9" fill="#e9dcab"/>
<circle cx="1056.3" cy="166.8" r="2" fill="#333"/>
<circle cx="1069.2" cy="166.8" r="3.9" fill="#e9dcab"/>
<circle cx="1069.2" cy="166.8" r="2" fill="#3fb34a"/>
<circle cx="1082.2" cy="166.8" r="3.9" fill="#e9dcab"/>
<circle cx="1082.2" cy="166.8" r="2" fill="#3fb34a"/>
<circle cx="1095.1" cy="166.8" r="3.9" fill="#e9dcab"/>
<circle cx="1095.1" cy="166.8" r="2" fill="#3fb34a"/>
<circle cx="1108.0" cy="166.8" r="3.9" fill="#e9dcab"/>
<circle cx="1108.0" cy="166.8" r="2" fill="#3fb34a"/>
<circle cx="1120.9" cy="166.8" r="3.9" fill="#e9dcab"/>
<circle cx="1120.9" cy="166.8" r="2" fill="#e0211f"/>
<circle cx="1133.9" cy="166.8" r="3.9" fill="#e9dcab"/>
<circle cx="1133.9" cy="166.8" r="2" fill="#888"/>
<rect x="313.5" y="65.5" width="153" height="33.599999999999994" fill="#f3f4f6" stroke="#000" stroke-width="5"/>
<text x="324.5" y="88.8" font-family="Liberation Serif" font-weight="bold" font-size="24" fill="#000">Arduino Uno</text>
<rect x="325.0" y="91.8" width="134" height="2.1" fill="#000"/>
<rect x="1115.7" y="60.6" width="106.79999999999995" height="36.699999999999996" fill="#f3f4f6" stroke="#000" stroke-width="5"/>
<text x="1125" y="85" font-family="Liberation Serif" font-weight="bold" font-size="24" fill="#000">Resistor</text>
<rect x="1125.5" y="88" width="83.5" height="2.1" fill="#000"/>
<rect x="1316.5" y="204.4" width="63" height="37.900000000000006" fill="#f3f4f6" stroke="#000" stroke-width="5"/>
<text x="1322.5" y="230" font-family="Liberation Serif" font-weight="bold" font-size="24" fill="#000">LCD</text>
<rect x="1323.0" y="233" width="50" height="2.1" fill="#000"/>
<rect x="433.5" y="385.5" width="190" height="35.69999999999999" fill="#f3f4f6" stroke="#000" stroke-width="5"/>
<text x="439" y="408.9" font-family="Liberation Serif" font-weight="bold" font-size="24" fill="#000">Connecting wires</text>
<rect x="439.5" y="411.9" width="177.5" height="2.1" fill="#000"/>
<rect x="1148.5" y="385.5" width="144.9000000000001" height="36.69999999999999" fill="#f3f4f6" stroke="#000" stroke-width="5"/>
<text x="1158.5" y="409.6" font-family="Liberation Serif" font-weight="bold" font-size="24" fill="#000">BreadBoard</text>
<rect x="1159.0" y="412.6" width="127" height="2.1" fill="#000"/>
<rect x="728.5" y="472.5" width="224" height="61.700000000000045" fill="#f3f4f6" stroke="#000" stroke-width="5"/>
<text x="748" y="496.6" font-family="Liberation Serif" font-weight="bold" font-size="24" fill="#000">Ultrasonic distance</text>
<rect x="748.5" y="499.6" width="196.5" height="2.1" fill="#000"/>
<text x="748" y="522.8" font-family="Liberation Serif" font-weight="bold" font-size="24" fill="#000">sensor</text>
<rect x="748.5" y="525.8" width="64.5" height="2.1" fill="#000"/>
<rect x="12.3" y="540.9" width="14.2" height="14.2" fill="#e8452c"/>
<text x="19.4" y="548.5" font-family="Liberation Sans" font-weight="bold" font-size="11" fill="#fff" text-anchor="middle" dominant-baseline="central">T</text>
<rect x="27.1" y="540.9" width="14.2" height="14.2" fill="#f47a3c"/>
<text x="34.2" y="548.5" font-family="Liberation Sans" font-weight="bold" font-size="11" fill="#fff" text-anchor="middle" dominant-baseline="central">I</text>
<rect x="41.9" y="540.9" width="14.2" height="14.2" fill="#f29a4c"/>
<text x="49.0" y="548.5" font-family="Liberation Sans" font-weight="bold" font-size="11" fill="#fff" text-anchor="middle" dominant-baseline="central">N</text>
<rect x="12.3" y="555.7" width="14.2" height="14.2" fill="#2fa84c"/>
<text x="19.4" y="563.3" font-family="Liberation Sans" font-weight="bold" font-size="11" fill="#fff" text-anchor="middle" dominant-baseline="central">K</text>
<rect x="27.1" y="555.7" width="14.2" height="14.2" fill="#79b93c"/>
<text x="34.2" y="563.3" font-family="Liberation Sans" font-weight="bold" font-size="11" fill="#fff" text-anchor="middle" dominant-baseline="central">E</text>
<rect x="41.9" y="555.7" width="14.2" height="14.2" fill="#c2c936"/>
<text x="49.0" y="563.3" font-family="Liberation Sans" font-weight="bold" font-size="11" fill="#fff" text-anchor="middle" dominant-baseline="central">R</text>
<rect x="12.3" y="570.5" width="14.2" height="14.2" fill="#1e66a8"/>
<text x="19.4" y="578.1" font-family="Liberation Sans" font-weight="bold" font-size="11" fill="#fff" text-anchor="middle" dominant-baseline="central">C</text>
<rect x="27.1" y="570.5" width="14.2" height="14.2" fill="#3b90d0"/>
<text x="34.2" y="578.1" font-family="Liberation Sans" font-weight="bold" font-size="11" fill="#fff" text-anchor="middle" dominant-baseline="central">A</text>
<rect x="41.9" y="570.5" width="14.2" height="14.2" fill="#59aee0"/>
<text x="49.0" y="578.1" font-family="Liberation Sans" font-weight="bold" font-size="11" fill="#fff" text-anchor="middle" dominant-baseline="central">D</text>
</svg></body></html>
